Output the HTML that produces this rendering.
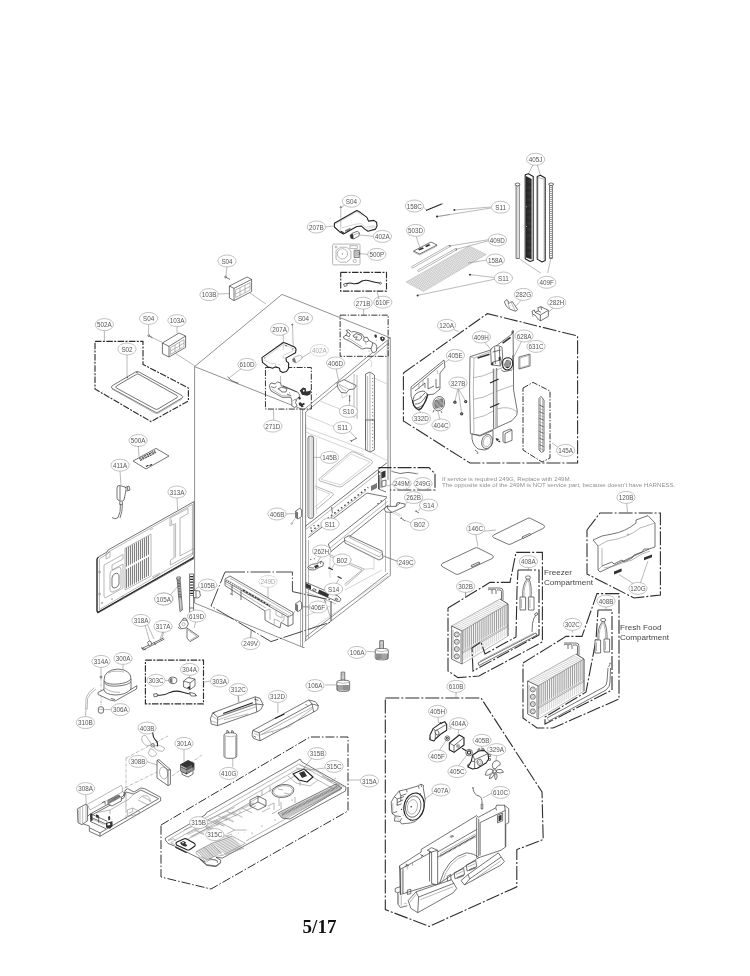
<!DOCTYPE html>
<html lang="en"><head><meta charset="utf-8"><title>Exploded view 5/17</title>
<style>
html,body{margin:0;padding:0;background:#fff;}
body{width:750px;height:976px;overflow:hidden;}
svg{will-change:transform;display:block;position:absolute;left:0;top:0;font-family:"Liberation Sans",sans-serif;}
.le{fill:#fff;stroke:#999;stroke-width:.6;}
.lt{font-size:6.3px;fill:#555;text-anchor:middle;}
.lf{stroke:#c4c4c4;}
.ltf{fill:#aaa;}
.dd{fill:none;stroke:#2e2e2e;stroke-width:1.1;stroke-dasharray:14 2 2 2;}
.t{fill:none;stroke:#808080;stroke-width:.55;}
.k{fill:none;stroke:#3a3a3a;stroke-width:.7;stroke-linejoin:round;}
.b{fill:none;stroke:#222;stroke-width:1.1;stroke-linejoin:round;}
.g{fill:none;stroke:#888;stroke-width:.6;stroke-linejoin:round;}
.h{fill:none;stroke:#aaa;stroke-width:.5;stroke-linejoin:round;}
.w{fill:#fff;}
.f1{fill:#333;}
.f2{fill:#777;}
.f3{fill:#bbb;}
.f4{fill:#ddd;}
.pg{font-family:"Liberation Serif",serif;font-weight:bold;font-size:19px;fill:#111;text-anchor:middle;}
.note{font-size:6.17px;fill:#909090;}
.cap{font-size:8.1px;fill:#444;}
.hw{fill:none;stroke:#fff;stroke-width:.45;}
.dm{fill:none;stroke:#2e2e2e;stroke-width:1.15;stroke-dasharray:6.5 1.4 2 1.4;}
.c1{fill:none;stroke:#555;stroke-width:.65;}
.dl{fill:none;stroke:#333;stroke-width:.9;stroke-dasharray:20 2 1.5 2;}
.ds{fill:none;stroke:#333;stroke-width:1;stroke-dasharray:6 1.5 1.4 1.5;}
.fin{fill:none;stroke:#666;stroke-width:.65;}

</style></head>
<body>
<svg width="750" height="976" viewBox="0 0 750 976">
<g id="p05_cabinet">
<polyline class="c1" points="194.6,366.6 282,294.4 390.3,337.8"/>
<polyline class="c1" points="194.6,366.6 303.5,409.8"/>
<polyline class="c1" points="194.6,366.6 194.6,603 302,647"/>
<polyline class="c1" points="302.6,409.8 302.6,647.5 304.5,647.5"/>
<polyline class="c1" points="305.6,412 305.6,641"/>
<polyline class="c1" points="303.7,409.8 390.3,337.8 390.3,575.5"/>
<polyline class="c1" points="305.5,412.3 388,343.5"/>
<polyline class="c1" points="388,343 388,480"/>
<polyline class="c1" points="304.5,641.5 390.3,575.5"/>
<polyline class="c1" points="305.6,637 388,573"/>
<polyline class="g" points="300.5,409 300.5,646"/>
</g>
<g id="p06_cab_top">
<polyline class="ds" points="340.13,315.15 388.13,315.15 388.13,356.32 340.13,356.32 340.13,315.15"/>
<polyline class="t" points="363.6,309.07 363.6,315.15"/>
<path class="k w" d="M 343.33,336.8 L 346,335.2 L 347.6,332 L 346,330.4 L 348.67,329.87 L 351.33,332 L 354,331.47 L 357.73,332.53 L 362,334.13 L 364.13,337.33 L 367.33,337.33 L 368.93,340.53 L 372.67,342.67 L 375.87,344.27 L 376.93,346.93 L 376.4,351.2 L 373.73,352.8 L 371.6,351.2 L 371.07,348.53 L 366.27,348 L 362,349.07 L 358.8,346.93 L 351.33,342.13 L 347.07,340 L 343.87,338.4 Z"/>
<path class="k" d="M 352.93,335.73 L 356.13,333.6 L 360.93,335.2 L 362,337.87 L 359.33,340.32 L 355.6,339.47 L 357.2,336.8 L 354,337.33 Z M 347.6,332 L 350.27,334.13 L 349.2,336.8 L 346,335.2 M 364.13,337.33 L 363.6,340.53 L 366.27,342.13 L 368.93,340.53 M 372.67,342.67 L 372.13,345.87 L 371.07,348.53"/>
<path class="g" d="M 347.07,340 L 349.2,338.4 L 358.8,344.8 L 362,346.93 M 365.2,342.67 L 366.27,344.8"/>
<path class="f1" d="M 374.27,334.99 L 376.08,334.35 L 377.15,336.27 L 376.08,337.97 L 374.8,337.33 Z"/>
<path class="f1" d="M 380.13,337.33 L 382.27,336.48 L 384.93,337.87 L 384.4,340.32 L 382.27,341.39 L 380.35,339.68 Z"/>
<path class="w" d="M 381.84,337.97 L 382.91,337.55 L 383.33,339.04 L 382.27,339.47 Z"/>
<circle class="f1" cx="376.51" cy="340.11" r="0.43"/>
<circle class="f1" cx="369.04" cy="350.99" r="0.43"/>
<circle class="f2" cx="344.93" cy="348" r="0.27"/>
<circle class="f2" cx="346.85" cy="342.67" r="0.27"/>
<polyline class="ds" points="265.45,367.47 311.32,367.47 311.32,409.07 265.45,409.07 265.45,367.47"/>
<polyline class="t" points="273.67,409.6 273.67,420.27"/>
<polyline class="t" points="280.6,376 280.6,382.93"/>
<path class="k w" d="M 269.4,385.6 L 271,382.93 L 275.27,384 L 277.4,381.87 L 280.6,382.93 L 281.13,385.6 L 297.67,392 L 299.8,395.2 L 299.27,397.33 L 297.13,398.4 L 295.53,402.67 L 297.13,405.87 L 294.47,407.47 L 291.8,405.87 L 291.8,400 L 290.73,397.33 L 282.2,397.33 L 271,390.93 L 269.93,388.27 Z"/>
<path class="k" d="M 277.93,388.8 L 281.67,387.2 L 287,388.8 L 285.93,392 L 281.67,392 L 280.6,390.4 Z M 271,386.67 L 274.73,387.95 L 276.33,386.13 M 282.73,385.6 L 296.6,392 M 287,394.13 L 291.27,395.73 M 293.4,400.53 Q 294.47,398.93 296.07,400"/>
<path class="g" d="M 272.07,389.33 L 282.2,395.73 L 290.73,396.05 M 289.13,392 L 290.2,393.6"/>
<path class="f1" d="M 299.8,390.4 L 303,387.52 L 305.67,388.27 L 306.2,391.47 L 309.4,390.93 L 311,389.87 L 310.47,394.13 L 307.27,395.73 L 301.93,394.67 Z"/>
<path class="w" d="M 302.79,390.08 L 304.28,389.65 L 304.71,391.15 L 303.21,391.79 Z"/>
<path class="f1" d="M 298.73,402.67 L 300.87,402.13 L 301.93,403.73 L 304.07,402.67 L 304.92,404.27 L 303,405.33 L 303.53,406.93 L 301.4,407.15 L 300.33,405.87 L 298.95,405.33 Z"/>
<path class="f1" d="M 298.2,397.33 L 300.33,396.8 L 300.87,398.93 L 298.95,399.68 Z"/>
<circle class="f1" cx="316.33" cy="394.13" r="0.48"/>
<circle class="f2" cx="301.93" cy="378.99" r="0.27"/>
<polyline class="t" points="336,368.4 339,382"/>
<path class="k w" d="M 337,383 L 344,379.6 L 356.4,385.6 L 354,389 L 349,389.6 L 346,393 L 341,392.4 L 338,388 Z"/>
<path class="g" d="M 337,383 L 349,389.6 M 339,385 Q 342,390 346,391"/>
<path class="h" d="M 342,393 L 342,398 L 347,396 L 347,392"/>
<path class="k" d="M 349.6,395.6 L 349.6,401 M 348.8,396 L 350.4,396 M 348.8,401 L 350.4,401"/>
<polyline class="t" points="349.6,402 349,407"/>
<polyline class="g" points="354,374 354,418"/>
<polyline class="g" points="357,375 357,419"/>
<polyline class="h" points="320,401 358,416.4"/>
<polyline class="h" points="307,415.6 342,430"/>
<polyline class="h" points="387,342 387,440"/>
<polyline class="h" points="374,378 387,384"/>
<path class="k w" d="M 365.6,374 L 370,372 L 374.4,375 L 374.4,440 L 365.6,440 Z"/>
<path class="g" d="M 370,372.4 L 370,440 M 367.6,376 L 367.6,440"/>
<path stroke="#777" stroke-width="1" stroke-dasharray="1 2.4" fill="none" d="M372.6,378 V440"/>
<path class="h" d="M 370,360 L 372,362 L 371,367"/>
<polyline class="t" points="348.4,430 356.4,438.4"/>
<ellipse class="le" cx="363.1" cy="303.2" rx="9.15" ry="6"/><text class="lt" x="363.1" y="305.7">271B</text>
<ellipse class="le" cx="382.8" cy="302.2" rx="9.15" ry="6"/><text class="lt" x="382.8" y="304.7">610F</text>
<ellipse class="le" cx="335.6" cy="363" rx="9.15" ry="6"/><text class="lt" x="335.6" y="365.5">406D</text>
<ellipse class="le" cx="348.4" cy="411.4" rx="9.15" ry="6"/><text class="lt" x="348.4" y="413.9">S10</text>
<ellipse class="le" cx="342.6" cy="427.6" rx="9.15" ry="6"/><text class="lt" x="342.6" y="430.1">S11</text>
<ellipse class="le" cx="272.9" cy="426.1" rx="9.15" ry="6"/><text class="lt" x="272.9" y="428.6">271D</text>
</g>
<g id="p07_cab_mid">
<path class="k" d="M 351,441 L 357,438 M 350.4,440 L 352,442"/>
<polyline class="h" points="305.6,427.6 366,450 388,461"/>
<polyline class="h" points="305.6,432 364,455"/>
<polyline class="g" points="366,450 366,420"/>
<path class="k w" d="M 365.6,420 L 374.4,420 L 374.4,450 L 370,452 L 365.6,450 Z"/>
<path class="g" d="M 370,420 L 370,451.6 M 367.6,420 L 367.6,450.4"/>
<path stroke="#777" stroke-width="1" stroke-dasharray="1 2.4" fill="none" d="M372.6,420 V450"/>
<path class="k w" d="M 308,438 Q 308,436 310.8,436 Q 313.6,436 313.6,438 L 313.6,516.4 Q 313.6,518.4 310.8,518.4 Q 308,518.4 308,516.4 Z"/>
<path class="g" d="M 309.8,437 L 309.8,517.6 M 312,437 L 312,517.6"/>
<polyline class="t" points="322.4,457.4 313.6,457.4"/>
<path class="g" d="M 319,479 L 350,452.6 Q 352,451 355,452.4 L 371,460 Q 374,461.6 371.6,464 L 342,486.4 Q 340,487.6 337,486.4 L 320,481 Q 318,480 319,479 Z"/>
<path class="h" d="M 321,479.4 L 351,454 L 370,462 L 341,485 Z"/>
<path class="g" d="M 315,486 L 332.4,493 Q 334.4,494 332.4,496 L 317,509"/>
<path class="h" d="M 315,488 L 330,494 L 315,507"/>
<polyline class="g" points="305.6,424 305.6,528"/>
<polyline class="h" points="316.4,438 316.4,514"/>
<polyline class="k" points="305.7,526 387,462.7"/>
<polyline class="g" points="305.7,529.5 382,470"/>
<path stroke="#444" stroke-width="1.5" stroke-dasharray="1.6 2.6" fill="none" d="M311,531.3 L368.3,487.3"/>
<polyline class="g" points="309,535 366,491"/>
<polyline class="k" points="308.3,537.5 367,493 387,497"/>
<polyline class="k" points="328.3,544 387,497.5"/>
<polyline class="k" points="331,551.5 388.3,505"/>
<polyline class="k" points="328.3,544 331,551.5"/>
<polyline class="g" points="330,548 387.5,501.5"/>
<circle class="f1" cx="378" cy="503.6" r="0.7"/>
<circle class="f1" cx="381.2" cy="501" r="0.7"/>
<circle class="f1" cx="311" cy="528" r="0.7"/>
<circle class="f1" cx="314" cy="525.6" r="0.7"/>
<path class="k" d="M378.5,470 L378.5,489 L386,492 M381,472 L381,488"/>
<path class="f1" d="M381.5,472 L385.5,470.5 L385.5,477 L381.5,478.5 Z"/>
<path class="k" d="M382,481 L386,480 L386,486 L382,487 Z"/>
<path class="f2" d="M371,486 L377,483 L377,488 L371,491 Z"/>
<polyline class="g" points="305.7,540 305.7,640"/>
<polyline class="g" points="308.5,540 308.5,638"/>
<polyline class="g" points="385.5,500 385.5,572"/>
<path class="k" d="M 331.6,507 L 332.4,513"/>
<polyline class="t" points="331,519 332,513.6"/>
<path class="k w" d="M 295.6,511 L 299.6,508.4 L 301.6,509.6 L 301.6,516.4 L 298,519 L 295.6,517.6 Z"/>
<path class="f2" d="M 295.6,511 L 298,512.4 L 298,519 L 295.6,517.6 Z"/>
<polyline class="t" points="284.4,514 295.6,513.6"/>
<polyline class="t" points="295,518.4 292,523"/>
<circle class="g w" cx="291.6" cy="523.6" r="0.8"/>
<path class="k w" d="M 344.4,538 L 349,535.6 L 382,551 L 383,558 L 379,560 L 345,543 Z"/>
<path class="g" d="M 344.4,540 L 379.6,557 L 382,553.6 M 349,535.6 L 350,538 L 381,553"/>
<polyline class="t" points="398,561.6 383,556"/>
<polyline class="h" points="330,550 330,570"/>
<polyline class="h" points="354,548 374,558 374,570"/>
<polyline class="h" points="340,554 352,560"/>
<polyline class="t" points="321.52,555.6 317.2,562.8"/>
<polyline class="t" points="335.6,562 331.92,568.08"/>
<polyline class="g" points="328.4,554 364.4,569.2 345.2,586"/>
<polyline class="g" points="330,556.4 362,570 344.4,584.4"/>
<polyline class="h" points="364.4,569.2 373.2,568.4"/>
<path class="k w" d="M 307.6,567.12 L 311.6,564.4 L 317.2,563.6 L 321.2,561.2 L 323.6,562.8 L 322.8,566 L 318.8,567.6 L 314,570 L 309.2,569.68 Z"/>
<path class="f1" d="M 314,566 L 318,564.4 L 318.8,566.8 L 315.28,568.4 Z"/>
<path class="k" d="M 309.2,567.6 L 314,568.08 M 321.2,561.2 L 320.4,563.92"/>
<circle class="f1" cx="310.8" cy="559.6" r="0.56"/>
<circle class="f1" cx="314.32" cy="558.8" r="0.56"/>
<path class="b" d="M 328.72,567.76 L 332.88,569.68"/>
<path class="k" d="M 328.4,568.72 L 329.36,566.8"/>
<ellipse class="le" cx="329.6" cy="457.4" rx="9.15" ry="6"/><text class="lt" x="329.6" y="459.9">145B</text>
<ellipse class="le" cx="277" cy="514" rx="9.15" ry="6"/><text class="lt" x="277" y="516.5">406B</text>
<ellipse class="le" cx="330" cy="524" rx="9.15" ry="6"/><text class="lt" x="330" y="526.5">S11</text>
<ellipse class="le" cx="321.6" cy="551" rx="9.15" ry="6"/><text class="lt" x="321.6" y="553.5">262H</text>
<ellipse class="le" cx="342" cy="560" rx="9.15" ry="6"/><text class="lt" x="342" y="562.5">B02</text>
<ellipse class="le" cx="406" cy="562" rx="9.15" ry="6"/><text class="lt" x="406" y="564.5">249C</text>
</g>
<g id="p08_cab_bot">
<polyline class="h" points="305.6,582 305.6,638"/>
<polyline class="h" points="310,630 388,576"/>
<polyline class="h" points="306,616 330,606"/>
<polyline class="h" points="330,570 330,578"/>
<polyline class="h" points="345,590 382,570"/>
<path class="b" d="M 337.6,576.4 L 341.6,578.4"/>
<polyline class="t" points="336,584 339,579"/>
<path class="k w" d="M 306,582.4 L 338,596 L 341,599 L 339.6,601.6 L 336,601 L 306,588 Z"/>
<path class="f1" d="M 306,583.2 L 311,585.4 L 311,589.6 L 306,587.6 Z"/>
<path class="f1" d="M 319,589.6 L 329,594 L 328,597.6 L 318,593.2 Z"/>
<ellipse class="k w" cx="314.4" cy="590" rx="1.8" ry="1" transform="rotate(20 314.4 590)"/>
<ellipse class="k w" cx="336.4" cy="599.2" rx="1.4" ry="0.8" transform="rotate(20 336.4 599.2)"/>
<polyline class="g" points="306,592 336,604"/>
<path class="k w" d="M 295.6,603.6 L 299.6,601 L 301.6,602.4 L 301.6,609 L 298,611.6 L 295.6,610 Z"/>
<path class="f2" d="M 295.6,603.6 L 298,605 L 298,611.6 L 295.6,610 Z"/>
<polyline class="t" points="309.6,607 301.6,606"/>
<polyline class="t" points="295,611 292,615.6"/>
<circle class="g w" cx="291.6" cy="616.4" r="0.8"/>
<polyline class="k" points="324.4,600 326,603"/>
<polyline class="t" points="327,607 330,616"/>
<path class="k w" d="M 379.73,640.67 L 383.47,640.67 L 383.47,650.27 L 379.73,650.27 Z"/>
<path class="g" d="M379.73,641.73 L383.47,641.73 M379.73,643.01 L383.47,643.01 M379.73,644.29 L383.47,644.29 M379.73,645.57 L383.47,645.57 M379.73,646.85 L383.47,646.85 M379.73,648.13 L383.47,648.13 M379.73,649.41 L383.47,649.41"/>
<path class="k w" d="M 375.25,650.27 Q 375.25,648.35 381.76,648.35 Q 388.27,648.35 388.27,650.27 L 388.27,657.95 Q 388.27,659.87 381.76,659.87 Q 375.25,659.87 375.25,657.95 Z"/>
<path class="g" d="M 375.25,650.48 Q 381.76,652.61 388.27,650.48"/>
<path fill="none" stroke="#333" stroke-width="5.6" stroke-dasharray=".55 .55" d="M376,656.3 H387.8"/>
<polyline class="t" points="366.93,651.33 375.25,651.87"/>
<path class="k w" d="M 341.12,672.13 L 344.75,672.13 L 344.75,681.73 L 341.12,681.73 Z"/>
<path class="g" d="M341.12,673.2 L344.75,673.2 M341.12,674.48 L344.75,674.48 M341.12,675.76 L344.75,675.76 M341.12,677.04 L344.75,677.04 M341.12,678.32 L344.75,678.32 M341.12,679.6 L344.75,679.6 M341.12,680.88 L344.75,680.88"/>
<path class="k w" d="M 336.85,682.05 Q 336.85,680.13 343.25,680.13 Q 349.65,680.13 349.65,682.05 L 349.65,689.52 Q 349.65,691.44 343.25,691.44 Q 336.85,691.44 336.85,689.52 Z"/>
<path class="g" d="M 336.85,682.27 Q 343.25,684.4 349.65,682.27"/>
<path fill="none" stroke="#333" stroke-width="5.6" stroke-dasharray=".55 .55" d="M337.5,687.7 H349.2"/>
<polyline class="t" points="325.12,684.93 336.85,684.93"/>
<ellipse class="le" cx="333.6" cy="589" rx="9.15" ry="6"/><text class="lt" x="333.6" y="591.5">S14</text>
<ellipse class="le" cx="318" cy="607" rx="9.15" ry="6"/><text class="lt" x="318" y="609.5">406F</text>
<ellipse class="le" cx="357" cy="652.4" rx="9.15" ry="6"/><text class="lt" x="357" y="654.9">106A</text>
<ellipse class="le" cx="315" cy="685.6" rx="9.15" ry="6"/><text class="lt" x="315" y="688.1">106A</text>
</g>
<g id="p10_top_mid">
<polyline class="t" points="346.4,204 341.2,207.2"/>
<polyline class="t" points="325.4,227 333.6,226"/>
<polyline class="t" points="374,236.4 360,235"/>
<polyline class="t" points="368,254.4 359.6,253.6"/>
<polyline class="t" points="423,206.6 426.4,210"/>
<polyline class="t" points="416,235.6 420,248.4"/>
<path class="b w" d="M 334.4,223.27 L 356.8,210.47 L 360.53,212.6 L 366.93,217.4 L 368.53,221.13 L 373.87,220.39 L 376.53,222.2 L 377.07,225.93 L 375.47,229.13 L 368,231.27 L 364.8,229.13 L 361.07,225.93 L 356.8,226.47 L 343.47,233.93 L 340.27,232.33 L 334.4,227 Z"/>
<path class="h" d="M 335.47,224.01 L 356.8,211.85 L 360,213.67 M 340.27,228.07 L 356.8,224.01 L 361.07,223.59 L 364.8,226.47 L 368,228.6 L 375.47,226.47 M 340.27,228.07 L 340.27,231.8 M 360,213.99 L 362.13,215.27 M 365.87,219 L 366.93,220.07 M 366.93,226.47 L 374.4,225.93"/>
<path class="k" d="M 345.07,230.73 L 350.4,228.28 M 345.39,231.48 L 350.72,229.13"/>
<path class="f1" d="M 340.27,231.8 L 343.47,233.61 L 344,232.33 L 341.12,230.73 Z"/>
<polyline class="t" points="340.8,208.33 340.8,227"/>
<circle class="k w" cx="340.8" cy="207.27" r="0.64"/>
<path class="k w" d="M 350.19,235.32 L 352,233.4 L 357.33,231.27 L 359.47,232.87 L 358.93,236.07 L 353.6,238.95 L 350.93,238.2 Z"/>
<path class="f1" d="M 350.19,235.32 L 352,233.61 L 353.28,235 L 353.6,238.95 L 350.93,238.2 Z"/>
<path class="g" d="M 353.28,235 L 359.47,232.87"/>
<path class="g w" d="M 333.65,244.07 L 358.93,244.07 Q 360,244.07 360,245.13 L 360,263.8 Q 360,264.87 358.93,264.87 L 333.65,264.87 Q 332.59,264.87 332.59,263.8 L 332.59,245.13 Q 332.59,244.07 333.65,244.07 Z"/>
<path class="g" d="M 336,250.47 L 340.27,247.27 L 346.67,247.27 L 350.93,251 L 350.93,258.47 L 346.67,262.2 L 340.27,262.2 L 336,259 Z"/>
<circle class="g" cx="342.4" cy="253.88" r="5.12"/>
<circle class="g" cx="342.4" cy="253.88" r="0.53"/>
<circle class="g" cx="336" cy="247.05" r="0.96"/>
<circle class="g" cx="354.67" cy="260.92" r="1.6"/>
<path class="k w" d="M 354.13,250.25 L 359.25,250.25 L 359.25,257.4 L 354.13,257.4 Z"/>
<path class="f3" d="M 354.99,251 L 358.4,251 L 358.4,256.65 L 354.99,256.65 Z"/>
<path class="g" d="M 349.87,245.67 L 357.33,245.67 L 357.33,248.55 L 349.87,248.55 Z"/>
<path class="k" d="M 358.61,252.07 L 359.68,253.45 L 358.61,254.73"/>
<polyline class="dm" points="340.7,272.3 386.5,272.3 386.5,291.1 340.7,291.1 340.7,272.3"/>
<path class="b" d="M 344.4,285 Q 348,282 353,283.6 Q 358,284.4 362,281 Q 366,279.6 370,281 Q 375,282.4 379.6,283"/>
<path class="k w" d="M 343.6,284 L 346.4,283.2 L 347.2,285.6 L 344.4,286.4 Z"/>
<circle class="k w" cx="380.4" cy="283.2" r="1"/>
<polyline class="t" points="377,291.6 379,299"/>
<path class="b" d="M 426,210.6 L 441.6,204"/>
<circle class="g w" cx="442" cy="203.8" r="0.8"/>
<circle class="f1" cx="437.2" cy="216.6" r="0.8"/>
<polyline class="t" points="437.2,216.6 450,214.4"/>
<path class="k w" d="M 413.6,251 L 431,242 L 437,245 L 419.6,254 Z"/>
<path class="f1" d="M 418,249.4 L 422.4,247.2 L 424,248.4 L 419.6,250.6 Z"/>
<path class="f1" d="M 425,246 L 429,244 L 430.4,245.2 L 426.4,247.2 Z"/>
<polyline class="g" points="413.6,251 413.6,252 419.6,255 437,246 437,245"/>
<ellipse class="le" cx="351.4" cy="201.2" rx="9.15" ry="6"/><text class="lt" x="351.4" y="203.7">S04</text>
<ellipse class="le" cx="316.4" cy="227" rx="9.15" ry="6"/><text class="lt" x="316.4" y="229.5">207B</text>
<ellipse class="le" cx="382.4" cy="236.4" rx="9.15" ry="6"/><text class="lt" x="382.4" y="238.9">402A</text>
<ellipse class="le" cx="376.8" cy="254.4" rx="9.15" ry="6"/><text class="lt" x="376.8" y="256.9">500P</text>
<ellipse class="le" cx="414.4" cy="206" rx="9.15" ry="6"/><text class="lt" x="414.4" y="208.5">158C</text>
<ellipse class="le" cx="415.6" cy="230.4" rx="9.15" ry="6"/><text class="lt" x="415.6" y="232.9">503D</text>
</g>
<g id="p11_top_right_a">
<defs><pattern id="mesh" width="1.6" height="1.6" patternUnits="userSpaceOnUse" patternTransform="rotate(-30)"><rect width="1.6" height="1.6" fill="#f1f1f1"/><path d="M0,0.4H1.6M0.4,0V1.6" stroke="#b4b4b4" stroke-width=".36"/></pattern></defs>
<path fill="url(#mesh)" stroke="#aaa" stroke-width=".4" d="M406,282 L469,246 L486.4,254.4 L423.6,291.6 Z"/>
<polyline class="t" points="491,207 454.4,210"/>
<polyline class="t" points="491,208 437,216.6"/>
<polyline class="t" points="489,239.6 449.6,246"/>
<polyline class="t" points="489,240.6 456,249.4"/>
<polyline class="t" points="487,260 468,263"/>
<polyline class="t" points="495,277.6 470,274.6"/>
<polyline class="t" points="495.6,279 417.6,295.4"/>
<circle class="f1" cx="454.4" cy="210" r="1"/>
<circle class="f1" cx="437" cy="216.6" r="1"/>
<circle class="f1" cx="470" cy="274.8" r="1"/>
<circle class="f1" cx="417.6" cy="295.4" r="1"/>
<circle class="f1" cx="449.6" cy="246" r="1"/>
<circle class="f1" cx="456" cy="249.4" r="1"/>
<path class="g w" d="M 411.6,266.6 L 449.2,245.2 L 450,246.6 L 412.4,268.2 Z"/>
<path class="g w" d="M 417.6,270.2 L 455.6,248.6 L 456.4,250 L 418.4,271.8 Z"/>
<polyline class="t" points="521.67,299.67 515,307"/>
<polyline class="t" points="553.67,307.67 548.33,312.33"/>
<path class="k w" d="M 504.33,301.67 L 506.73,299.67 L 508.33,301 L 508.33,303.67 L 510.33,302.33 L 512.33,301.67 L 517.67,309.67 L 515.67,311.27 L 509.67,309 L 506.33,306.33 Z"/>
<path class="g" d="M 508.33,303.67 L 509.67,309 M 512.33,301.67 L 511.67,303.67 L 515.67,311.27 M 506.73,299.67 L 507,301.67"/>
<path class="k w" d="M 532.07,311.27 L 534.33,309.93 L 535,312.33 L 538.33,311 L 537.93,307.67 L 541,306.73 L 548.33,310.33 L 548.33,316.33 L 540.33,321 L 537.67,318.33 L 535,315 L 532.6,314.33 Z"/>
<path class="k" d="M 540.33,321 L 540.33,315 L 548.33,310.33 M 540.33,315 L 535,312.33 M 538.33,311 L 541,312.33 M 541,306.73 L 541.67,309.93"/>
<path class="g" d="M 532.6,314.33 L 532.6,316.33 L 533.67,316.6 M 537.67,318.33 L 537.67,319.67"/>
<ellipse class="le" cx="556.73" cy="302.6" rx="9.15" ry="6"/><text class="lt" x="556.73" y="305.1">282H</text>
<ellipse class="le" cx="500.6" cy="207.2" rx="9.15" ry="6"/><text class="lt" x="500.6" y="209.7">S11</text>
<ellipse class="le" cx="497.4" cy="240" rx="9.15" ry="6"/><text class="lt" x="497.4" y="242.5">409D</text>
<ellipse class="le" cx="495.4" cy="260" rx="9.15" ry="6"/><text class="lt" x="495.4" y="262.5">158A</text>
<ellipse class="le" cx="503.4" cy="278" rx="9.15" ry="6"/><text class="lt" x="503.4" y="280.5">S11</text>
<ellipse class="le" cx="523.4" cy="294.4" rx="9.15" ry="6"/><text class="lt" x="523.4" y="296.9">282G</text>
</g>
<g id="p12_strips">
<defs><pattern id="blk" width="1.2" height="1.2" patternUnits="userSpaceOnUse"><rect width="1.2" height="1.2" fill="#222"/><rect x=".3" y=".3" width=".4" height=".4" fill="#777"/></pattern></defs>
<polyline class="t" points="533.2,164.4 528.4,173.68"/>
<polyline class="t" points="537.2,164.4 540.4,175.28"/>
<polyline class="t" points="519.28,258.8 540.88,273.2"/>
<polyline class="t" points="550.8,258.8 547.6,273.2"/>
<path class="k w" d="M 516.08,185.52 L 519.28,185.52 L 519.28,258.48 L 516.08,258.48 Z"/>
<path class="g" d="M 517.04,186 L 517.04,258.16"/>
<path class="k w" d="M 515.28,183.6 L 517.52,182.96 L 519.76,183.6 L 519.76,185.2 L 517.52,186 L 515.28,185.2 Z"/>
<path class="b w" d="M 525.2,174.8 L 528.4,173.68 L 533.2,176.4 L 533.2,260.4 L 530,261.52 L 525.2,258.8 Z"/>
<path fill="url(#blk)" d="M526,176 L531.6,179 L531.6,259.6 L526,257.5 Z"/>
<circle class="w" cx="526.48" cy="206.8" r="0.48"/>
<circle class="w" cx="526.48" cy="226.48" r="0.48"/>
<path class="b w" d="M 537.2,176.4 L 540.4,175.28 L 545.2,178 L 545.2,260.4 L 542,262 L 537.2,259.12 Z"/>
<polyline class="g" points="538,177.52 544.08,179.28 544.08,259.76"/>
<polyline class="g" points="538,177.52 538,258.8"/>
<path class="k w" d="M 549.52,185.52 L 552.4,185.52 L 552.4,258.48 L 549.52,258.48 Z"/>
<path class="k w" d="M 548.88,183.6 L 551.12,182.96 L 553.36,183.6 L 553.36,184.88 L 551.12,185.68 L 548.88,184.88 Z"/>
<path stroke="#555" stroke-width="1.4" stroke-dasharray=".8 1.2" fill="none" d="M551,187 V258"/>
<ellipse class="le" cx="535.6" cy="159.28" rx="9.15" ry="6"/><text class="lt" x="535.6" y="161.78">405J</text>
<ellipse class="le" cx="546.7" cy="282.3" rx="9.15" ry="6"/><text class="lt" x="546.7" y="284.8">409F</text>
</g>
<g id="p13_103b">
<polyline class="t" points="227,266 226,276"/>
<polyline class="t" points="217,294 229.4,293.6"/>
<polyline class="t" points="250,293 266,304"/>
<polyline class="t" points="283,334.4 283.6,344"/>
<polyline class="t" points="311,352 302,357.6"/>
<polyline class="t" points="242,368 229,378"/>
<path class="k w" d="M 229.4,286 L 247,277 L 251.6,279.4 L 251.6,291.6 L 234,300.6 L 229.4,298 Z"/>
<path class="k" d="M 229.4,286 L 234,288.4 L 251.6,279.4 M 234,288.4 L 234,300.6"/>
<path class="g" d="M 235.6,290 L 250,282.6 L 250,290 L 235.6,297.6 Z M 240,288 L 240,295.4 M 245,285.4 L 245,292.8 M 235.6,294 L 250,286.4"/>
<circle class="k w" cx="225.6" cy="277" r="0.9"/>
<polyline class="k" points="226.4,277.6 230,279.4"/>
<path class="b w" d="M 261.93,357.6 L 283.27,342.45 L 285.93,343.2 L 294.47,346.93 L 296.07,349.07 L 295.53,352.8 L 285.93,358.13 L 286.47,361.33 L 288.6,362.93 L 288.6,368.27 L 286.47,371.47 L 282.73,372.53 L 280.07,370.93 L 279.53,368.27 L 275.8,366.67 L 272.6,368.27 L 267.8,366.67 L 262.47,362.4 Z"/>
<path class="h" d="M 264.07,358.45 L 283.27,344.27 L 293.4,348.53 M 283.27,355.47 L 290.2,352.27 L 294.47,350.13 M 283.27,355.47 L 283.27,358.13 L 285.93,358.13 M 263.53,359.73 L 272.07,364 L 275.27,362.93 L 275.8,366.67 M 277.93,364.53 L 280.6,365.07 M 283.27,344.27 L 283.27,350.13"/>
<path class="k" d="M 284.87,345.33 L 287,346.08 M 291.8,349.28 L 293.4,348.85"/>
<circle class="g" cx="264.81" cy="358.13" r="0.43"/>
<polyline class="t" points="292.55,326.13 293.19,345.87"/>
<circle class="k w" cx="292.33" cy="324.75" r="0.64"/>
<path class="g w" d="M 292.33,359.2 L 294.47,357.07 L 299.8,355.25 L 301.93,356.53 L 301.72,358.88 L 296.07,362.93 L 293.19,361.87 Z"/>
<path class="f2" d="M 292.33,359.2 L 294.25,357.39 L 295.32,359.2 L 296.07,362.93 L 293.19,361.87 Z"/>
<path class="k" d="M 227.6,376.6 Q 230,380 233.6,381.6 L 238.4,383.2"/>
<ellipse class="le" cx="227" cy="261" rx="9.15" ry="6"/><text class="lt" x="227" y="263.5">S04</text>
<ellipse class="le" cx="209" cy="294.6" rx="9.15" ry="6"/><text class="lt" x="209" y="297.1">103B</text>
<ellipse class="le" cx="279.6" cy="329.4" rx="9.15" ry="6"/><text class="lt" x="279.6" y="331.9">207A</text>
<ellipse class="le" cx="303.5" cy="318.3" rx="9.15" ry="6"/><text class="lt" x="303.5" y="320.8">S04</text>
<ellipse class="le lf" cx="319.4" cy="350.4" rx="9.15" ry="6"/><text class="lt ltf" x="319.4" y="352.9">402A</text>
<ellipse class="le" cx="247" cy="364.4" rx="9.15" ry="6"/><text class="lt" x="247" y="366.9">610D</text>
</g>
<g id="p14_502a">
<polyline class="dm" points="95,341.4 143,341.4 143,364.4 188.4,388 188.4,401 151,421.6 95,389 95,341.4"/>
<polyline class="t" points="104.4,329.6 104.4,341.4"/>
<polyline class="t" points="127,354 127,377"/>
<polyline class="t" points="148.6,323.4 148.6,334"/>
<polyline class="t" points="177,325.6 177,333"/>
<polyline class="t" points="174,352.4 195,366"/>
<polyline class="t" points="150.4,336.8 162.4,342.4"/>
<path class="k w" d="M 112.4,385.6 L 135.6,372 Q 137.2,371 139,372 L 182,395.6 Q 183.6,396.8 182,398 L 158.4,412 Q 156.8,413 155,412 L 112,388.4 Q 110.4,387.2 112.4,385.6 Z"/>
<path class="k" d="M 116.4,386 L 136.4,374.4 Q 137.6,373.6 139,374.4 L 177,395.6 Q 178.4,396.6 177,397.6 L 158,409 Q 156.6,409.8 155,409 L 116.4,388 Q 115,387 116.4,386 Z"/>
<path class="g" d="M 112,389 L 155,413.2 Q 156.8,414 158.4,413.2 L 182,399"/>
<circle class="f1" cx="137" cy="372.4" r="0.6"/>
<circle class="f1" cx="127.4" cy="377.6" r="0.6"/>
<circle class="k w" cx="148.8" cy="335.6" r="0.9"/>
<polyline class="k" points="149.6,336.2 152.4,337.6"/>
<path class="k w" d="M 162.4,343 L 179,333 L 185.6,336 L 185.6,347.4 L 169,357 L 162.4,353.6 Z"/>
<path class="k" d="M 162.4,343 L 169,346.4 L 185.6,336 M 169,346.4 L 169,357"/>
<path class="g" d="M 170.6,347.6 L 184,339.6 L 184,346.4 L 170.6,354.4 Z M 175,345 L 175,352 M 179.6,342.2 L 179.6,349.2 M 170.6,351 L 184,343"/>
<ellipse class="le" cx="104.4" cy="324.6" rx="9.15" ry="6"/><text class="lt" x="104.4" y="327.1">502A</text>
<ellipse class="le" cx="148.6" cy="318.4" rx="9.15" ry="6"/><text class="lt" x="148.6" y="320.9">S04</text>
<ellipse class="le" cx="177" cy="320.6" rx="9.15" ry="6"/><text class="lt" x="177" y="323.1">103A</text>
<ellipse class="le" cx="127" cy="349" rx="9.15" ry="6"/><text class="lt" x="127" y="351.5">S02</text>
<ellipse class="le" cx="138.1" cy="440.5" rx="9.15" ry="6"/><text class="lt" x="138.1" y="443">500A</text>
</g>
<g id="p15_left_mid">
<polyline class="t" points="138.4,446 139,457"/>
<polyline class="t" points="120,471 121,485"/>
<path class="k w" d="M 133,461 L 156,448.4 L 169,456 L 146,469 Z"/>
<path stroke="#333" stroke-width="3" stroke-dasharray="1.9 .8" fill="none" d="M139.8,459.6 L155.6,451.6"/>
<path stroke="#fff" stroke-width="1.2" stroke-dasharray=".9 1.8" stroke-dashoffset="-.5" fill="none" d="M139.8,459.6 L155.6,451.6"/>
<path class="b" d="M 146,466.4 L 148.4,465.2 M 149.6,465.6 L 152,464.4"/>
<path class="k w" d="M 117,488 Q 117,485 120,485.6 L 125,487 Q 126.4,488 126,490 L 124,500 Q 123,501.6 120,501 L 118,500 Q 117,499 117,497 Z"/>
<path class="k" d="M 120,486 L 120,500.4 M 125,487.6 L 129,486 L 130,490 L 126.4,491 M 127,486.6 L 128,490.4"/>
<path class="k" d="M 120,501.2 L 119.6,504.4 L 122.4,504.4 L 122.4,501.6"/>
<path class="k" d="M 120.4,504.4 Q 121,512 118,517.6 Q 115,520 112,517.6 M 122.4,504.4 Q 122.4,512 120,518"/>
<polyline class="t" points="177,497.6 177.6,510"/>
<polyline class="t" points="170.4,595 178,586"/>
<polyline class="t" points="200,586 194,590"/>
<polyline class="t" points="147,623.6 154,639"/>
<polyline class="t" points="164,631.4 161.6,639"/>
<polyline class="t" points="196,621 194,628"/>
<path class="k w" d="M 98.4,557 L 107,552 L 108,550 L 194,501.6 L 194,557 L 97.6,612.4 L 97,611 L 97,559 Z"/>
<path class="g" d="M 100,558.4 L 108,553.6 L 109,551.6 L 192.4,504.4 L 192.4,555 L 99.4,609.6 L 99.4,560 Z"/>
<path class="b" d="M 98.4,557 L 97,559 L 97,611 L 97.6,612.4 L 194,557.6"/>
<path class="k" d="M 97.6,613.2 L 194,558.6"/>
<g stroke="#444" stroke-width=".75" fill="none">
<path d="M126.4,548V566.8 M128.4,546.9V565.7 M130.4,545.8V564.6 M132.4,544.7V563.5 M134.4,543.6V562.4 M136.4,542.5V561.3 M138.4,541.4V560.2 M140.4,540.3V559.1 M142.4,539.2V558 M144.4,538.1V556.9 M146.4,537V555.8 M148.4,535.9V554.7"/>
<path d="M126.4,569V588 M128.4,567.9V586.9 M130.4,566.8V585.8 M132.4,565.7V584.7 M134.4,564.6V583.6 M136.4,563.5V582.5 M138.4,562.4V581.4 M140.4,561.3V580.3 M142.4,560.2V579.2 M144.4,559.1V578.1 M146.4,558V577 M148.4,556.9V575.9"/>
</g>
<path class="g" d="M 125,548.4 L 151,534 L 151,576 L 125,590 Z"/>
<path class="g" d="M 170,518 L 188,508.4 L 188,513.6 L 180,518 L 180,556 L 194,548.4 M 194,552.4 L 170.4,565 L 170.4,560 L 174,558 L 174,524 L 170,526 L 170,518"/>
<path class="g" d="M 171.6,519.6 L 171.6,524.4 M 175.6,523 L 175.6,557.6"/>
<path class="g" d="M 104,565 L 123,554.4 L 123,559 L 112,565 L 112,570 L 123,564 L 123,588 L 105,598 L 104,596 Z"/>
<path class="g" d="M 110,574 Q 110,571 113,570 L 119,567 Q 121,567 121,570 L 121,586 Q 121,588 119,589 L 113,592 Q 110,592.4 110,590 Z"/>
<path class="k" d="M 112,578 Q 112,575 115,573.6 Q 119,572.4 119,576 L 119,584 Q 118.4,587 115,588 Q 112,588.4 112,585.6 Z"/>
<path class="g" d="M 106,554 L 110,551.6 L 110,557 L 106,559 Z"/>
<circle class="g" cx="99.6" cy="572" r="1"/>
<circle class="g" cx="99.6" cy="594" r="1"/>
<circle class="g" cx="123" cy="597" r="1"/>
<circle class="g" cx="102" cy="603" r="0.8"/>
<circle class="g" cx="112" cy="599" r="0.6"/>
<path class="g" d="M 152,577 L 160,573 M 153,578.4 L 159,575"/>
<path class="g" d="M 150,530 L 153,528.4"/>
<path class="k w" d="M 177,578 L 180,577.6 L 182.4,610 L 180,611.6 Z"/>
<path class="g" d="M 178,579 L 180.4,612 M 179,578 L 181.6,611"/>
<path stroke="#444" stroke-width="2.2" stroke-dasharray=".7 .9" fill="none" d="M178.6,580 L180,598"/>
<path class="k w" d="M 176.8,577.2 L 180.2,576.8 L 180.2,578.8 L 176.8,579.2 Z"/>
<path class="k w" d="M 189.6,574 L 193.6,574 L 193.6,608 L 189.6,608 Z"/>
<path stroke="#222" stroke-width="3" stroke-dasharray="1.2 1.6" fill="none" d="M191.6,576 V596"/>
<path class="k w" d="M 193.6,590.4 L 199.6,591 L 200.4,596 L 198,598 L 193.6,597.6 Z"/>
<path class="k" d="M 196,591 L 196,597.6"/>
<path class="k" d="M 189.6,608 L 189.6,612.4 L 193.6,612.4 L 193.6,608"/>
<path class="k w" d="M 187,628 L 199,636.4 L 190,641.6 L 187,638 Z"/>
<path class="k w" d="M 179,624.4 L 182.4,620 L 187,620.4 L 188.4,624 L 186,628 L 181,628.8 Z"/>
<circle class="g" cx="183.6" cy="624.2" r="1.6"/>
<path class="k" d="M 178,627 L 180,629.2 M 182.4,620 L 183.6,618 L 186,618.4 L 187,620.4"/>
<path class="g" d="M 188,630 L 197,636.4 L 190.4,640"/>
<ellipse class="le" cx="177" cy="492" rx="9.15" ry="6"/><text class="lt" x="177" y="494.5">313A</text>
<ellipse class="le" cx="164" cy="599" rx="9.15" ry="6"/><text class="lt" x="164" y="601.5">105A</text>
<ellipse class="le" cx="207.6" cy="585" rx="9.15" ry="6"/><text class="lt" x="207.6" y="587.5">105B</text>
<ellipse class="le" cx="141" cy="620.4" rx="9.15" ry="6"/><text class="lt" x="141" y="622.9">318A</text>
<ellipse class="le" cx="163" cy="626.4" rx="9.15" ry="6"/><text class="lt" x="163" y="628.9">317A</text>
<ellipse class="le" cx="196.6" cy="616" rx="9.15" ry="6"/><text class="lt" x="196.6" y="618.5">619D</text>
<ellipse class="le" cx="120.1" cy="465.2" rx="9.15" ry="6"/><text class="lt" x="120.1" y="467.7">411A</text>
</g>
<g id="p16_303">
<polyline class="dm" points="145.4,660.1 203.5,660.1 203.5,703.9 145.4,703.9 145.4,660.1"/>
<polyline class="t" points="210,681 203,682.4"/>
<polyline class="t" points="164.4,680.4 169,680.4"/>
<polyline class="t" points="189.6,674.4 189.6,678"/>
<polyline class="t" points="145,625 149.6,641"/>
<polyline class="t" points="163,631.6 160,639"/>
<polyline class="t" points="250.6,638.4 251,630"/>
<polyline class="t" points="238.4,694.6 239,702"/>
<path class="k w" d="M 169,679 Q 169,677 173,677 Q 177,677.4 177,680 L 176.4,682.4 Q 175,684 172,683.6 Q 169,683 169,681 Z"/>
<path class="f2" d="M 170,678.4 L 172.4,678 L 172.4,683 L 170,682.4 Z"/>
<path class="k w" d="M 183.6,681 L 188,677.6 L 195,679 L 195,686 L 190,689.6 L 183.6,687 Z"/>
<path class="k" d="M 183.6,681 L 190,683 L 195,679 M 190,683 L 190,689.6"/>
<path class="f1" d="M 187,687.6 L 190,686 L 190,689.6 Z"/>
<path class="b" d="M 157,695 Q 164,696 170,692.4 Q 176,690 182,692 Q 187,693.6 190,694"/>
<path class="k w" d="M 153.6,694 L 157,693.6 L 157.4,696.4 L 154,696.8 Z"/>
<path class="k w" d="M 189.6,692.4 L 195,693.6 L 196,696 L 191,696 Z"/>
<path class="k" d="M 195,694.4 L 197,696"/>
<path class="k" d="M 142,648.4 L 163.6,638 M 143.2,650 L 164.4,639 M 142,648.4 L 143.2,650"/>
<path class="k w" d="M 147.6,642.4 Q 149,640 151,641.6 L 151.6,644.4 L 149,646 Z"/>
<path class="k" d="M 141,647.6 L 146,650 M 154,642.4 L 155.6,645"/>
<ellipse class="le" cx="163.6" cy="599" rx="9.15" ry="6"/><text class="lt" x="163.6" y="601.5">105A</text>
<ellipse class="le" cx="250.6" cy="643.6" rx="9.15" ry="6"/><text class="lt" x="250.6" y="646.1">249V</text>
<ellipse class="le" cx="156" cy="680.4" rx="9.15" ry="6"/><text class="lt" x="156" y="682.9">303C</text>
<ellipse class="le" cx="189.6" cy="669.4" rx="9.15" ry="6"/><text class="lt" x="189.6" y="671.9">304A</text>
<ellipse class="le" cx="219.6" cy="681" rx="9.15" ry="6"/><text class="lt" x="219.6" y="683.5">303A</text>
<ellipse class="le" cx="238.4" cy="689.6" rx="9.15" ry="6"/><text class="lt" x="238.4" y="692.1">312C</text>
<ellipse class="le" cx="147" cy="728" rx="9.15" ry="6"/><text class="lt" x="147" y="730.5">403B</text>
</g>
<g id="p17_249d">
<polyline class="dl" points="225,572 292.4,572 292.4,591.6 331,600 331,622 271,641.6 211,606 225,572"/>
<polyline class="t" points="250.6,638.4 251.6,630"/>
<polyline class="t" points="268,586.4 268,600"/>
<polyline class="t" points="311,607 301,607"/>
<path class="k w" d="M 225,579 L 230,576 L 293,612.4 L 293,624 L 288,626.4 L 281,622.4 L 280,628 L 274,625 L 270,623 L 265,620 L 265,611 L 225,585.6 Z"/>
<path class="k" d="M 225,581 L 288,617 L 293,614.4 M 288,617 L 288,626.4"/>
<path class="g" d="M 227,580 L 289,615.6 M 230,578 L 291,613.6 M 225,583 L 266,608"/>
<path class="k" d="M 232,585 L 232,594 M 241,590.4 L 241,600 M 230,593.6 L 233,595"/>
<path stroke="#333" stroke-width="1.3" stroke-dasharray="2.2 1.2" fill="none" d="M243,590 L270,606"/>
<path stroke="#444" stroke-width="1" stroke-dasharray="1 1.4" fill="none" d="M226,580 L262,601"/>
<path class="g" d="M 265,611 L 270,609 L 270,620 M 274,625 L 274.4,619 L 280,621.6 M 281,622.4 L 284,620 L 284,616"/>
<path class="g" d="M 276,610 L 276,615 L 282,618 L 282,613.6"/>
<ellipse class="le lf" cx="268" cy="581.4" rx="9.15" ry="6"/><text class="lt ltf" x="268" y="583.9">249D</text>
</g>
<g id="p18_312">
<polyline class="t" points="238.08,696 238.4,702.4"/>
<polyline class="t" points="277.92,702.08 277.92,712.8"/>
<polyline class="t" points="232.8,767.2 232.8,758.72"/>
<path class="k w" d="M 210.4,718.4 L 212.8,712.8 L 255.2,696.8 L 260,698.4 L 263.2,704.8 L 260.8,709.6 L 256.8,712 L 217.6,725.6 L 211.2,724 Z"/>
<path class="k" d="M 212.8,712.8 L 217.6,717.12 L 217.6,725.6 M 217.6,717.12 L 256,704 L 255.2,696.8 M 256,704 L 256.8,712 M 256,704 L 263.2,704.8"/>
<path class="b" d="M 223.2,713.6 L 252.8,702.72"/>
<path class="g" d="M 222.4,714.88 L 253.6,704 M 217.6,720 L 256,706.88 M 224,719.68 L 248,713.92 M 212,716 L 216.8,719.2 M 211.2,720.8 L 216.8,722.88"/>
<path class="k" d="M 213.6,713.6 L 215.2,712 M 254.4,699.2 L 258.4,700.48"/>
<path class="k w" d="M 252,735.2 L 252.8,730.4 L 308.8,700 L 315.2,701.6 L 318.4,705.6 L 317.6,709.6 L 313.6,712 L 260,740.8 L 253.6,738.4 Z"/>
<path class="k" d="M 252.8,730.4 L 259.2,732.8 L 260,740.8 M 259.2,732.8 L 312,704 L 308.8,700 M 312,704 L 313.6,712 M 312,704 L 318.4,705.6"/>
<path class="b" d="M 274.88,718.4 L 284.48,713.92"/>
<path class="g" d="M 260,735.2 L 312.32,707.2 M 261.6,734.4 L 289.6,726.4 L 312,708.8 M 272,731.2 L 273.6,733.6 M 254.4,733.6 L 258.4,735.2"/>
<path class="k" d="M 305.6,704 L 307.2,705.6 M 253.6,736 L 256,737.28"/>
<path class="k w" d="M 224,735.2 Q 224,732.8 230.4,732.8 Q 236.8,732.8 236.8,735.2 L 236.8,756 Q 236.8,758.4 230.4,758.4 Q 224,758.4 224,756 Z"/>
<path class="g" d="M 224,735.68 Q 230.4,737.92 236.8,735.68 M 225.28,736.32 L 225.28,757.12 M 235.52,736.32 L 235.52,757.12"/>
<path class="k" d="M 226.88,733.12 L 226.88,730.4 L 228.48,731.2 L 228.48,732.8 M 231.68,732.8 L 231.68,730.4 L 233.28,731.2 L 233.28,733.12"/>
<ellipse class="le" cx="277.6" cy="696.4" rx="9.15" ry="6"/><text class="lt" x="277.6" y="698.9">312D</text>
</g>
<g id="p19_315">
<polyline fill="none" stroke="#2e2e2e" stroke-width="1" stroke-dasharray="9 2 1.5 2" points="161,825 310,737 348,737 348,811 211,889 161,877 161,825"/>
<polyline class="t" points="360,780 348.5,780"/>
<path class="k w" d="M165.4,838 L205,815 L206.6,812.6 L297,761 L300,759 L302,762 L346,787 L345.5,791 L246,845 L222.6,858 L216,857.4 L220.6,860 L220.6,863 L216,866.6 L206.6,865.4 L198.6,858 L190.6,854 L174.6,846 L168,843.4 L165.4,840 Z"/>
<path class="g" d="M168,840 L207,817 L299,764 L341,788 L246,841"/>
<path class="g" d="M171,842.5 L209,820.5 L298,769 L334,789"/>
<path class="g" d="M176,846 L212,825 L298,774"/>
<path class="g" d="M 186.67,834 L 216,820 L 253.33,802.67 M 190.67,836.67 L 220,822.67 L 256,805.73 M 194.67,830 L 204,834.67 M 204,825.33 L 214.67,830.67 M 213.33,820.93 L 224,826.27 M 222.67,816.67 L 233.33,822 M 232,812 L 242.67,817.33 M 241.33,807.6 L 252,812.93"/>
<path class="g" d="M 184,830 L 200,823.33 L 234.67,807.33 M 200,823.33 L 206.67,826.67 M 208,820 L 218.67,824.93 M 217.33,815.6 L 227.33,820.4 M 226.67,811.33 L 236.67,816"/>
<path class="h" d="M 188,834.67 L 216.67,820.93 L 254,803.6 M 192,837.33 L 220.67,823.6 M 195.33,829.33 L 204.67,834 M 204.67,824.67 L 215.33,830 M 214,820.27 L 224.67,825.6 M 223.33,816 L 234,821.33"/>
<path class="g" d="M 216,820 L 234.67,830 L 246.67,830 M 234.67,830 L 226.67,834 M 222.67,834 L 229.33,837.33"/>
<circle class="f2" cx="200" cy="824.93" r="0.33"/>
<circle class="f2" cx="211.33" cy="823.07" r="0.33"/>
<circle class="f2" cx="218.67" cy="822" r="0.33"/>
<circle class="f2" cx="229.33" cy="818" r="0.33"/>
<circle class="f2" cx="238.67" cy="832.93" r="0.33"/>
<circle class="f2" cx="244.67" cy="832" r="0.33"/>
<circle class="f2" cx="248" cy="830" r="0.33"/>
<circle class="f2" cx="196" cy="836" r="0.33"/>
<path class="b w" d="M 176,843.6 Q 175.73,842.67 177.07,842 L 184.27,838.8 Q 185.6,838.4 186.67,839.07 L 194.67,843.6 Q 195.73,844.67 194.93,846 L 189.6,849.73 Q 188.27,850.27 186.93,849.73 L 177.07,845.33 Q 176,844.67 176,843.6 Z"/>
<path class="f1" d="M 180,842.67 L 183.33,840.93 L 186,842.27 L 185.33,844 L 187.33,844.93 L 186,846.67 L 183.33,846 L 181.33,844.67 Z"/>
<path class="w" d="M 182,842.27 L 183.33,841.73 L 184,843.07 L 182.67,843.6 Z"/>
<path class="b" d="M 175.33,847.33 L 186.67,852.67"/>
<path class="g" d="M 168,840.67 L 173.33,838.67 L 176,840.67 M 170.67,842.67 L 174.67,844.67"/>
<path class="g" d="M 196,851.6 L 212,843.07 L 222.67,839.6 L 232,836 L 245.33,843.33 L 222.67,855.33 L 213.33,856.67 L 206.67,862 L 196,853.33 Z"/>
<path class="g" d="M196.67,852 L212.27,843.6 M197.73,852.93 L213.33,844.53 M198.8,853.87 L214.4,845.47 M199.87,854.8 L215.47,846.4 M200.93,855.73 L216.53,847.33 M202,856.67 L217.6,848.27 M203.07,857.6 L218.67,849.2 M204.13,858.53 L219.73,850.13 M205.2,859.47 L220.8,851.07 M206.27,860.4 L221.87,852"/>
<path class="g" d="M213.33,843.33 L232,836.67 M214.53,844.47 L233.2,837.8 M215.73,845.6 L234.4,838.93 M216.93,846.73 L235.6,840.07 M218.13,847.87 L236.8,841.2 M219.33,849 L238,842.33 M220.53,850.13 L239.2,843.47 M221.73,851.27 L240.4,844.6 M222.93,852.4 L241.6,845.73 M224.13,853.53 L242.8,846.87 M225.33,854.67 L244,848"/>
<path class="g" d="M 212,843.33 L 222.67,855.33 M 204,847.33 L 213.33,856.67"/>
<path class="k" d="M 198.67,857.33 L 206.67,864.67 L 216,866 L 220,862.67 M 200,859.33 L 205.33,862 M 209.33,858.67 L 217.33,860.67 L 217.33,862.67"/>
<path class="g" d="M 201.33,856.67 L 208,860 L 216,859.33"/>
<ellipse class="k" cx="283" cy="791" rx="11" ry="6.4" transform="rotate(-8 283 791)"/>
<ellipse class="g" cx="283" cy="791" rx="9.5" ry="5.2" transform="rotate(-8 283 791)"/>
<path class="g" d="M278,789 L283,790 M284,793 L289,794"/>
<path class="k" d="M250,800 L258,796 L266,800 L266,806 L258,810 L250,806 Z M258,796 L258,802 L250,806 M258,802 L266,806"/>
<path class="g" d="M268,806 L274,803 L274,810 M279,798 L279,806 M262,812 L270,808 M272,814 L282,808"/>
<path class="g" d="M262,790 L262,796 M270,786 L270,792 M295,797 L295,803 M300,780 L300,786 M281,802 L281,808"/>
<path class="b w" d="M293,774 L304,769 L313,777 L307,782 L299,780 Z"/>
<path class="f1" d="M299,773 L304,771 L307,776 L302,778 Z"/>
<path class="g" d="M288,776 L296,783 L310,786 L318,780 M300,765 L318,772 L330,780"/>
<polyline class="t" points="312,758 304,768"/>
<polyline class="t" points="325,768 310,770 296,768"/>
<path class="k" d="M278,813 L336,784 L342,788 L290,819 L282,818 Z"/>
<path class="g" d="M279,814 L337,785 M279.7,814.75 L337.7,785.75 M280.4,815.5 L338.4,786.5 M281.1,816.25 L339.1,787.25 M281.8,817 L339.8,788 M282.5,817.75 L340.5,788.75 M283.2,818.5 L341.2,789.5"/>
<path stroke="#666" stroke-width="2.8" stroke-dasharray=".5 .8" fill="none" d="M282,814.5 L338,786.5"/>
<path class="g" d="M327,779 L340,785 M330,782 L336,778 M322,776 L344,787"/>
<circle class="f2" cx="252" cy="833" r="0.6"/>
<circle class="f2" cx="262" cy="826" r="0.6"/>
<circle class="f2" cx="275" cy="820" r="0.6"/>
<circle class="f2" cx="240" cy="812" r="0.6"/>
<circle class="f2" cx="292" cy="800" r="0.6"/>
<polyline class="t" points="205,826 210,832"/>
<polyline class="t" points="222,838 232,834"/>
<ellipse class="le" cx="198.6" cy="822.6" rx="9.15" ry="6"/><text class="lt" x="198.6" y="825.1">315B</text>
<ellipse class="le" cx="214.8" cy="834.6" rx="9.15" ry="6"/><text class="lt" x="214.8" y="837.1">315C</text>
<ellipse class="le" cx="317" cy="753.6" rx="9.15" ry="6"/><text class="lt" x="317" y="756.1">315B</text>
<ellipse class="le" cx="334" cy="766.4" rx="9.15" ry="6"/><text class="lt" x="334" y="768.9">315C</text>
<ellipse class="le" cx="369.4" cy="781" rx="9.15" ry="6"/><text class="lt" x="369.4" y="783.5">315A</text>
<ellipse class="le" cx="228.6" cy="773.4" rx="9.15" ry="6"/><text class="lt" x="228.6" y="775.9">410G</text>
</g>
<g id="p20_compressor">
<polyline class="t" points="101,666.4 101,675.6"/>
<polyline class="t" points="123,663.4 123,670"/>
<polyline class="t" points="111.6,709.6 103.4,709.6"/>
<polyline class="t" points="85.4,717.6 86,709"/>
<polyline class="t" points="184,748.4 184,761.6"/>
<polyline class="t" points="146.4,761.4 157,765"/>
<path class="t" stroke-dasharray="3 1 .6 1" d="M101,678 V706"/>
<path class="t" stroke-dasharray="3 1 .6 1" d="M126,758 L168,736 M126,758 V788 M172,776 L202,755 M100,800 L157,772"/>
<path class="k w" d="M 98,692.4 L 105,689 L 130,690 L 137,685.6 L 136.4,689 L 115,701 L 110,700 L 98,694.4 Z"/>
<path class="k w" d="M 104,680 Q 104,670 118,669 Q 131,670 131,679 L 131,689 Q 126,695 115,695 Q 105,694.4 104,690 Z"/>
<path class="k" d="M 104,681 Q 107,685 118,684 Q 128,683 131,679 M 104.4,683 Q 108,687 118,686 Q 129,685 131,681.6"/>
<path class="g" d="M 108,673 Q 114,670 124,672 M 105,688 Q 110,692.4 120,692.4"/>
<circle class="k w" cx="101" cy="677" r="1"/>
<path class="k" d="M 111,698.4 L 115,699.6"/>
<path class="k w" d="M 98.4,708 Q 98.4,706.8 101,706.8 Q 103.4,706.8 103.4,708 L 103.4,712 Q 103.4,713.2 101,713.2 Q 98.4,713.2 98.4,712 Z"/>
<path class="g" d="M 98.4,709 Q 101,710 103.4,709"/>
<path class="g" d="M 94.4,687.6 Q 88,692 86,698 L 85.6,709 M 96,689 Q 90,693 87.6,698.4 L 87.2,709 M 85.6,709 L 87.2,709"/>
<path class="g w" d="M 142,736.67 Q 144,734.67 145.73,735.6 L 150,742 L 151.6,744.93 L 146.27,745.73 Q 142.67,743.33 141.73,740 Z"/>
<path class="g w" d="M 154.67,745.73 Q 160.67,744.4 164.67,748 Q 164,751.07 162,751.33 Q 158,751.33 154.67,748.67 Z"/>
<path class="g w" d="M 150,748.67 Q 154.67,749.33 156.67,754 Q 155.33,756.67 152.4,756.67 Q 148.93,756 148.4,753.33 Z"/>
<circle class="k w" cx="152.67" cy="745.33" r="1.73"/>
<path class="g" d="M 151.33,744.4 L 154,746.27 M 151.6,746.27 L 153.73,744.4"/>
<path class="b" d="M 152.67,732.67 Q 152.93,737.33 155.33,740 Q 158.27,742 157.33,746.27"/>
<path class="k w" d="M 157,760.4 L 159,759.6 L 170.4,769.6 L 170.4,784.4 L 168,785.6 L 157,778 Z"/>
<ellipse class="g w" cx="163.6" cy="773" rx="4" ry="6" transform="rotate(-10 163.6 773)"/>
<path class="k" d="M 157,760.4 L 168,770 L 168,785.6 M 168,770 L 170.4,769.6"/>
<path class="f1" d="M 180,764.4 L 188,760 L 194.4,763 L 194.4,770 L 186.4,774.4 L 180,771 Z"/>
<path class="w" d="M 180.8,765.6 L 186.4,768.4 L 186.4,769 L 180.8,766.2 Z"/>
<path class="hw" d="M181.2,767.6 L181.2,771 M182.1,768.04 L182.1,771.44 M183,768.48 L183,771.88 M183.9,768.92 L183.9,772.32 M184.8,769.36 L184.8,772.76 M185.7,769.8 L185.7,773.2"/>
<path class="hw" d="M187.2,770.4 L187.2,773.6 M188.2,769.88 L188.2,773.08 M189.2,769.36 L189.2,772.56 M190.2,768.84 L190.2,772.04 M191.2,768.32 L191.2,771.52 M192.2,767.8 L192.2,771 M193.2,767.28 L193.2,770.48"/>
<path stroke="#fff" stroke-width=".4" d="M181,771 V765 M183,772 V766 M185,773 V767 M187,772 V767 M189,771 V766 M191,770 V765"/>
<path class="k" d="M 182,772 L 182,774.4 L 188,777 L 193,774 L 193,771"/>
<ellipse class="le" cx="101" cy="661.4" rx="9.15" ry="6"/><text class="lt" x="101" y="663.9">314A</text>
<ellipse class="le" cx="123" cy="658.4" rx="9.15" ry="6"/><text class="lt" x="123" y="660.9">300A</text>
<ellipse class="le" cx="120.4" cy="709.6" rx="9.15" ry="6"/><text class="lt" x="120.4" y="712.1">306A</text>
<ellipse class="le" cx="85.4" cy="722.6" rx="9.15" ry="6"/><text class="lt" x="85.4" y="725.1">310B</text>
<ellipse class="le" cx="184" cy="743.4" rx="9.15" ry="6"/><text class="lt" x="184" y="745.9">301A</text>
<ellipse class="le" cx="138" cy="761.4" rx="9.15" ry="6"/><text class="lt" x="138" y="763.9">308B</text>
</g>
<g id="p21_308a">
<polyline class="t" points="85.73,794.67 86.27,804"/>
<path class="g w" d="M 87.33,804.4 L 121.33,785.33 L 122.27,787.33 L 122.27,792 L 90,810 Z"/>
<path class="k w" d="M 90,814 L 123.33,796 L 125.33,790 L 127.6,788.67 L 134,792 L 140.67,788 L 144.67,788.67 L 160.67,797.33 L 160.67,800.93 L 100,836.27 L 89.33,831.33 L 89.33,826 L 83.33,824 L 83.33,820.67 Z"/>
<path class="k" d="M 90,816 L 124,797.73 L 126,792 L 133.73,794 L 140.93,790 L 158.67,798.67 L 100,832.93 L 90,828 M 100,832.93 L 100,836.27"/>
<path class="g" d="M 126,792 L 126,812.67 M 133.73,794 L 128.67,799.33 L 110,810 L 96.67,812.67 M 127.33,810 L 132.67,808 L 139.33,811.33 L 139.33,814 L 128.67,816 L 127.33,815.33 Z M 132.67,808 L 132.67,811.33 L 128.67,813.33"/>
<path class="g" d="M 139.33,798.67 Q 142,794.67 147.33,796 Q 151.33,798 150,802 M 138,800 L 148.67,805.33 M 142.67,796.67 L 151.33,801.33"/>
<path class="g" d="M 90,818 L 104.67,824.67 M 126,815.33 L 126,819.33 M 110,810 L 110,814"/>
<path class="k w" d="M 108,800.4 L 117.33,795.33 L 121.33,797.33 L 121.33,800.93 L 112,806 L 108,804 Z"/>
<path class="k" d="M108.93,800.4 L108.93,803.87 M109.87,799.89 L109.87,803.36 M110.8,799.39 L110.8,802.85 M111.73,798.88 L111.73,802.35 M112.67,798.37 L112.67,801.84 M113.6,797.87 L113.6,801.33 M114.53,797.36 L114.53,800.83 M115.47,796.85 L115.47,800.32 M116.4,796.35 L116.4,799.81 M117.33,795.84 L117.33,799.31 M118.27,795.33 L118.27,798.8 M119.2,794.83 L119.2,798.29"/>
<path class="k" d="M 102,802.67 L 104.67,801.33 L 105.33,804.67 M 122.67,791.33 L 124.67,793.33 L 124,796"/>
<path class="k w" d="M 77.33,808.93 L 80,807.33 L 86,804 L 87.6,806.27 L 87.6,820.67 L 82,824.67 L 78,822.67 Z"/>
<path class="g" d="M 80,808 L 80,823.33 M 82.67,806.67 L 82.67,824 M 86,804.67 L 86,821.33 M 78.27,810 L 78.27,822.27"/>
<path class="f1" d="M 90,814.27 L 92.4,813.33 L 92.67,820.4 L 90.27,821.33 Z M 96,814.27 L 98.67,815.33 L 98.67,818.27 L 96,817.33 Z M 106,822.67 L 112.4,821.33 L 112.67,826 L 110,828.67 L 106,827.6 Z M 108,816.67 L 110,816 L 110.27,819.6 L 108.4,820.4 Z"/>
<path class="w" d="M 107.33,823.6 L 110,823.07 L 110.27,824.93 L 107.6,825.47 Z"/>
<path class="k" d="M 92.67,814.67 L 107.33,821.33 M 92.67,818 L 106,824 M 98.67,816 L 98.67,822.67 M 90,821.33 L 106,828.67"/>
<ellipse class="le" cx="85.6" cy="788.6" rx="9.15" ry="6"/><text class="lt" x="85.6" y="791.1">308A</text>
</g>
<g id="p22_120a">
<polyline class="dd" points="403.4,373 487.4,313.6 577.6,336 577.6,463 470,463 403.4,421 403.4,373"/>
<polyline class="ds" points="523,388 533,382.4 550,391 550,458 542,462 523,450 523,388"/>
<polyline class="t" points="450,328 458.6,331.6"/>
<polyline class="t" points="484,341.4 491,349.6"/>
<polyline class="t" points="522,340.4 513.4,357.6"/>
<polyline class="t" points="451,358.4 445,362.4"/>
<polyline class="t" points="458,388 455,401"/>
<polyline class="t" points="458,388 465,400"/>
<polyline class="t" points="458,388 461.6,413"/>
<polyline class="t" points="421.4,413.6 417.4,408"/>
<polyline class="t" points="440,420 438,411.6"/>
<path class="k w" d="M 411,387 L 444,360 L 445,367 L 440,373 L 440,389 L 434,394 L 427,395 L 421,409 L 414,406 L 411,396 Z"/>
<path class="k" d="M 412,389 L 443,363 M 415,391 L 425,383 L 425,388 M 428,378 L 428,389 L 434,386 M 436,379 L 436,388 L 439.4,387"/>
<path class="g" d="M 419,384 L 419,389 M 423,380 L 423,386 M 437,370 L 438,374"/>
<path class="k w" d="M 413,400 Q 414,392 423,391 Q 428,392 427,398 Q 425,406 417,408 Q 412.6,406 413,400 Z"/>
<path class="k" d="M 415,404 Q 421,405 426,396 M 414,401 Q 419,400 425,393"/>
<circle class="g" cx="420.6" cy="397" r="0.8"/>
<path class="b" d="M 412.6,400 Q 413,408 419,410 Q 423,409 428,394"/>
<path class="k w" d="M 433,404 Q 433,398 439,396.4 Q 445,397 444.6,403 Q 444,410 438,411 Q 433,410 433,404 Z"/>
<ellipse class="g" cx="439" cy="403.6" rx="4.4" ry="5.6" transform="rotate(20 439 403.6)"/>
<path class="k" d="M434.6,401 L443,399 M434.6,402.2 L443,400.2 M434.6,403.4 L443,401.4 M434.6,404.6 L443,402.6 M434.6,405.8 L443,403.8 M434.6,407 L443,405 M434.6,408.2 L443,406.2"/>
<path class="k" d="M 434,410 L 433,412.4 M 441,411 L 442,413"/>
<circle class="f1" cx="454.9" cy="402.2" r="1.6"/>
<circle class="f1" cx="465.7" cy="401.6" r="1.6"/>
<circle class="f1" cx="461.7" cy="413.8" r="1.6"/>
<circle class="f3" cx="454.9" cy="402.2" r="0.6"/>
<circle class="f3" cx="465.7" cy="401.6" r="0.6"/>
<circle class="f3" cx="461.7" cy="413.8" r="0.6"/>
<polyline class="t" points="559,448 552,443"/>
<path class="k w" d="M 470,356.67 L 490.67,350 L 496,346 L 512,334 L 513.07,331.33 L 513.33,356.67 L 513.6,390 L 517.33,411.33 L 516.67,415.33 L 512,420.67 L 497.33,427.33 L 493.33,429.33 L 480,435.33 L 470.4,433.73 L 469.6,390 Z"/>
<path class="g" d="M 474,358 L 473.33,390 L 474,433.33 M 470,356.67 L 474,358 L 490.67,351.6"/>
<path class="g" d="M 473.6,377.73 Q 484,376.67 493.33,371.6 M 496.67,370 Q 506.67,366 513.33,363.07"/>
<path class="g" d="M 473.6,418.67 Q 485.33,416.67 494,410.67 M 497.33,408.93 Q 509.33,405.33 517.07,412"/>
<path class="g" d="M 473.33,399.33 Q 484,398 493.33,392.67 M 496.67,391.33 Q 506.67,387.33 513.6,385.33"/>
<path class="k" d="M 493.33,368.67 L 493.6,428.67 M 496.67,368 L 497.07,427.07"/>
<path class="g" d="M 494.93,368.67 L 495.33,428"/>
<path class="b" d="M 490,382.93 L 498.67,378.93 M 490,407.6 L 499.33,403.6"/>
<path stroke="#333" stroke-width="1.6" fill="none" d="M477.6,358 L489.6,354.2 M502.6,343.2 L510.6,337.4"/>
<path class="k" d="M 512,334 L 512,331.07 L 513.33,330.53 L 513.33,332.67"/>
<path class="k w" d="M 490.67,350.27 Q 492.67,345.33 498.67,345.73 L 502,347.33 L 502.67,356.67 L 500.67,366 L 491.33,364.93 Z"/>
<path class="k" d="M 492.67,352 L 500.67,350 M 492.67,362 L 500.67,360 M 494.67,347.33 L 495.33,364 M 499.33,346.67 L 500,364.93"/>
<path class="f1" d="M 491.33,362.67 L 493.33,362 L 493.33,364.93 L 491.33,364.93 Z M 498.67,357.33 L 500.67,356.67 L 500.67,360 L 498.67,360.4 Z"/>
<path class="b w" d="M 502.67,361.33 Q 504,357.33 508.67,357.73 Q 513.07,358.67 512.67,364 Q 512,369.33 507.33,370 Q 502.67,369.33 502.67,364.67 Z"/>
<ellipse class="f1" cx="507.73" cy="364" rx="3.2" ry="4.27" transform="rotate(15 507.73 364)"/>
<path class="hw" d="M505.33,360.67 L505.33,367.33 M506.13,360.53 L506.13,367.2 M506.93,360.4 L506.93,367.07 M507.73,360.27 L507.73,366.93 M508.53,360.13 L508.53,366.8 M509.33,360 L509.33,366.67 M510.13,359.87 L510.13,366.53"/>
<path class="k" d="M 512.67,355.33 L 513.33,370 M 501.33,370 L 504,371.6 L 512,370"/>
<path class="k w" d="M 472,434 Q 471,444 478,449 L 485,450 Q 493,448 493,439 L 493,430.4 L 480,436 Z"/>
<ellipse class="k w" cx="487" cy="441.6" rx="5.2" ry="7.2" transform="rotate(15 487 441.6)"/>
<ellipse class="g" cx="487" cy="441.6" rx="3.6" ry="5.4" transform="rotate(15 487 441.6)"/>
<path class="k" d="M 503,432 L 510,429 L 512,430 L 512,440.4 L 505,443 L 503,441.6 Z M 505,433.6 L 505,443 M 505,433.6 L 512,430"/>
<path class="f1" d="M 495.6,438 L 499,439 L 498,441 L 496.4,440.4 Z M 497.6,441.6 L 500,440.4 L 500.4,442.4 Z"/>
<path class="k" d="M 475,450 L 478,452.4 L 477,454"/>
<path class="k w" d="M 519,357 L 530,354 L 530,366 L 519,369 Z"/>
<path class="g" d="M 520,358 L 529,355.4 L 529,365.2 L 520,367.8 Z"/>
<path class="k w" d="M 539,398.4 L 541,396.4 L 544,400 L 544,451 L 541.6,452.4 L 539,450 Z"/>
<path class="g" d="M 540.4,398 L 540.4,451 M 542.6,399 L 542.6,451.6"/>
<path class="k" d="M539.4,405 L543.6,407 M539.4,411.6 L543.6,413.6 M539.4,418.2 L543.6,420.2 M539.4,424.8 L543.6,426.8 M539.4,431.4 L543.6,433.4 M539.4,438 L543.6,440 M539.4,444.6 L543.6,446.6"/>
<path class="g" d="M539.4,408.4 L543.6,410.4 M539.4,415 L543.6,417 M539.4,421.6 L543.6,423.6 M539.4,428.2 L543.6,430.2 M539.4,434.8 L543.6,436.8 M539.4,441.4 L543.6,443.4 M539.4,448 L543.6,450"/>
<ellipse class="le" cx="446.6" cy="325.4" rx="9.15" ry="6"/><text class="lt" x="446.6" y="327.9">120A</text>
<ellipse class="le" cx="481.4" cy="337" rx="9.15" ry="6"/><text class="lt" x="481.4" y="339.5">409H</text>
<ellipse class="le" cx="524" cy="336" rx="9.15" ry="6"/><text class="lt" x="524" y="338.5">628A</text>
<ellipse class="le" cx="536" cy="346.4" rx="9.15" ry="6"/><text class="lt" x="536" y="348.9">631C</text>
<ellipse class="le" cx="455.4" cy="355.4" rx="9.15" ry="6"/><text class="lt" x="455.4" y="357.9">405E</text>
<ellipse class="le" cx="458" cy="383" rx="9.15" ry="6"/><text class="lt" x="458" y="385.5">327B</text>
<ellipse class="le" cx="421.4" cy="418.4" rx="9.15" ry="6"/><text class="lt" x="421.4" y="420.9">332D</text>
<ellipse class="le" cx="441" cy="425" rx="9.15" ry="6"/><text class="lt" x="441" y="427.5">404C</text>
<ellipse class="le" cx="565.6" cy="450.4" rx="9.15" ry="6"/><text class="lt" x="565.6" y="452.9">145A</text>
</g>
<g id="p23_249m">
<polyline class="dd" points="379,489 379,467.6 429,467.6 435,473.6 435,490 390,490"/>
<path class="k" d="M 392.4,471.6 Q 400,475 408,472.4 L 416.4,473.6"/>
<circle class="g w" cx="417.2" cy="473.6" r="0.7"/>
<circle class="g w" cx="392" cy="471.2" r="0.6"/>
<polyline class="t" points="393.6,484 387,486"/>
<polyline class="t" points="410,500 405,504.4"/>
<polyline class="t" points="421,507 418.4,511"/>
<polyline class="t" points="411.6,523 405,520.4"/>
<polyline class="t" points="398.4,561.6 384,556"/>
<polyline class="t" points="475.6,533.6 478,546.4"/>
<polyline class="t" points="480,531.6 496,530"/>
<polyline class="t" points="465.6,591.6 465.6,596.4"/>
<path class="k w" d="M 384,509 L 387,506.4 L 396,506.4 L 400,503 L 405,504 L 405,506.4 L 392,512.4 L 386,512 Z"/>
<path class="k" d="M 396,506.4 L 397,503 L 399,502.4 L 400,503 M 387,506.4 L 388,509 L 392,512.4"/>
<polyline class="k" points="415.6,511 419,513"/>
<polyline class="k" points="415.2,511.6 416.4,510.4"/>
<path class="k" d="M 401,518 L 405,521 M 400.4,518.8 L 401.6,517.2"/>
<path class="h" d="M 392,512.4 L 400,516.4 M 394,511.6 L 401.6,515.6"/>
<path class="k w" d="M 442.4,563.4 L 475,548 Q 476.4,547.2 478,548 L 492.4,555.2 Q 494.4,556.8 492.4,558.4 L 459,574 Q 457.4,574.8 455.6,574 L 442,566.4 Q 440,565 442.4,563.4 Z"/>
<path class="k w" d="M 471,565.6 L 479,562 L 480,563.2 L 472,567 Z"/>
<path class="k w" d="M 493.6,535 L 527.6,518.4 Q 529,517.6 530.6,518.4 L 543.6,525 Q 545.6,526.6 543.6,528.2 L 511,544 Q 509.4,544.8 507.6,544 L 493.6,537.6 Q 491.6,536.4 493.6,535 Z"/>
<path class="k w" d="M 522,537 L 530,533.4 L 531,534.6 L 523,538.4 Z"/>
<ellipse class="le" cx="402" cy="483.6" rx="9.15" ry="6"/><text class="lt" x="402" y="486.1">249M</text>
<ellipse class="le" cx="423" cy="483.6" rx="9.15" ry="6"/><text class="lt" x="423" y="486.1">249G</text>
<ellipse class="le" cx="413.6" cy="497.6" rx="9.15" ry="6"/><text class="lt" x="413.6" y="500.1">262B</text>
<ellipse class="le" cx="428.6" cy="505" rx="9.15" ry="6"/><text class="lt" x="428.6" y="507.5">S14</text>
<ellipse class="le" cx="419.6" cy="524.4" rx="9.15" ry="6"/><text class="lt" x="419.6" y="526.9">B02</text>
<ellipse class="le" cx="475.6" cy="528.6" rx="9.15" ry="6"/><text class="lt" x="475.6" y="531.1">146C</text>
<ellipse class="le" cx="465.6" cy="586.4" rx="9.15" ry="6"/><text class="lt" x="465.6" y="588.9">302B</text>
</g>
<g id="p24_evap">
<g>
<polygon class="g w" points="451.6,626 500,599 508,604 462,631"/>
<polygon class="g w" points="462,631 508,604 508,636 462,664"/>
<path class="fin" d="M463.9,629.9v20 M465.8,628.8v20 M467.8,627.6v20 M469.7,626.5v20 M471.6,625.4v20 M473.5,624.2v20 M475.4,623.1v20 M477.3,622.0v20 M479.2,620.9v20 M481.2,619.8v20 M483.1,618.6v20 M485.0,617.5v20 M486.9,616.4v20 M488.8,615.2v20 M490.8,614.1v20 M492.7,613.0v20 M494.6,611.9v20 M496.5,610.8v20 M498.4,609.6v20 M500.3,608.5v20 M502.2,607.4v20 M504.2,606.2v20 M506.1,605.1v20"/>
<path class="h" d="M463.9,651.4v9 M465.8,650.2v9 M467.8,649.1v9 M469.7,648.0v9 M471.6,646.9v9 M473.5,645.8v9 M475.4,644.6v9 M477.3,643.5v9 M479.2,642.4v9 M481.2,641.2v9 M483.1,640.1v9 M485.0,639.0v9 M486.9,637.9v9 M488.8,636.8v9 M490.8,635.6v9 M492.7,634.5v9 M494.6,633.4v9 M496.5,632.2v9 M498.4,631.1v9 M500.3,630.0v9 M502.2,628.9v9 M504.2,627.8v9 M506.1,626.6v9"/>
<path class="h" d="M463.9,629.9l-9.6,-4.6 M465.8,628.8l-9.6,-4.6 M467.8,627.6l-9.6,-4.6 M469.7,626.5l-9.6,-4.6 M471.6,625.4l-9.6,-4.6 M473.5,624.2l-9.6,-4.6 M475.4,623.1l-9.6,-4.6 M477.3,622.0l-9.6,-4.6 M479.2,620.9l-9.6,-4.6 M481.2,619.8l-9.6,-4.6 M483.1,618.6l-9.6,-4.6 M485.0,617.5l-9.6,-4.6 M486.9,616.4l-9.6,-4.6 M488.8,615.2l-9.6,-4.6 M490.8,614.1l-9.6,-4.6 M492.7,613.0l-9.6,-4.6 M494.6,611.9l-9.6,-4.6 M496.5,610.8l-9.6,-4.6 M498.4,609.6l-9.6,-4.6 M500.3,608.5l-9.6,-4.6 M502.2,607.4l-9.6,-4.6 M504.2,606.2l-9.6,-4.6 M506.1,605.1l-9.6,-4.6"/>
<path class="g" d="M462,652 L508,625 M462,653.5 L508,626.5"/>
<path class="k" d="M500,599 L508,604 L508,636"/>
<polygon class="k w" points="451.6,626 462,631 462,664 451.6,659"/>
<circle class="k w" cx="456.8" cy="634.5" r="2.5"/><circle class="g" cx="456.8" cy="634.5" r="1.2"/>
<circle class="k w" cx="456.8" cy="641.8" r="2.5"/><circle class="g" cx="456.8" cy="641.8" r="1.2"/>
<circle class="k w" cx="456.8" cy="649.1" r="2.5"/><circle class="g" cx="456.8" cy="649.1" r="1.2"/>
<circle class="k w" cx="456.8" cy="656.4" r="2.5"/><circle class="g" cx="456.8" cy="656.4" r="1.2"/>
<path class="g" d="M453,630 v28 M460.6,633 v29"/>
<path class="k" d="M488,590 q2,-2 4,0 v4 M492,590 q2,-2 4,0 v4 M496,588 h4 q3,0 3,3 v9 M497,590 h3 q1.5,0 1.5,1.5 v8 M488,588 h8"/>
</g>
<g transform="translate(76,55)">
<polygon class="g w" points="451.6,626 500,599 508,604 462,631"/>
<polygon class="g w" points="462,631 508,604 508,636 462,664"/>
<path class="fin" d="M463.9,629.9v20 M465.8,628.8v20 M467.8,627.6v20 M469.7,626.5v20 M471.6,625.4v20 M473.5,624.2v20 M475.4,623.1v20 M477.3,622.0v20 M479.2,620.9v20 M481.2,619.8v20 M483.1,618.6v20 M485.0,617.5v20 M486.9,616.4v20 M488.8,615.2v20 M490.8,614.1v20 M492.7,613.0v20 M494.6,611.9v20 M496.5,610.8v20 M498.4,609.6v20 M500.3,608.5v20 M502.2,607.4v20 M504.2,606.2v20 M506.1,605.1v20"/>
<path class="h" d="M463.9,651.4v9 M465.8,650.2v9 M467.8,649.1v9 M469.7,648.0v9 M471.6,646.9v9 M473.5,645.8v9 M475.4,644.6v9 M477.3,643.5v9 M479.2,642.4v9 M481.2,641.2v9 M483.1,640.1v9 M485.0,639.0v9 M486.9,637.9v9 M488.8,636.8v9 M490.8,635.6v9 M492.7,634.5v9 M494.6,633.4v9 M496.5,632.2v9 M498.4,631.1v9 M500.3,630.0v9 M502.2,628.9v9 M504.2,627.8v9 M506.1,626.6v9"/>
<path class="h" d="M463.9,629.9l-9.6,-4.6 M465.8,628.8l-9.6,-4.6 M467.8,627.6l-9.6,-4.6 M469.7,626.5l-9.6,-4.6 M471.6,625.4l-9.6,-4.6 M473.5,624.2l-9.6,-4.6 M475.4,623.1l-9.6,-4.6 M477.3,622.0l-9.6,-4.6 M479.2,620.9l-9.6,-4.6 M481.2,619.8l-9.6,-4.6 M483.1,618.6l-9.6,-4.6 M485.0,617.5l-9.6,-4.6 M486.9,616.4l-9.6,-4.6 M488.8,615.2l-9.6,-4.6 M490.8,614.1l-9.6,-4.6 M492.7,613.0l-9.6,-4.6 M494.6,611.9l-9.6,-4.6 M496.5,610.8l-9.6,-4.6 M498.4,609.6l-9.6,-4.6 M500.3,608.5l-9.6,-4.6 M502.2,607.4l-9.6,-4.6 M504.2,606.2l-9.6,-4.6 M506.1,605.1l-9.6,-4.6"/>
<path class="g" d="M462,652 L508,625 M462,653.5 L508,626.5"/>
<path class="k" d="M500,599 L508,604 L508,636"/>
<polygon class="k w" points="451.6,626 462,631 462,664 451.6,659"/>
<circle class="k w" cx="456.8" cy="634.5" r="2.5"/><circle class="g" cx="456.8" cy="634.5" r="1.2"/>
<circle class="k w" cx="456.8" cy="641.8" r="2.5"/><circle class="g" cx="456.8" cy="641.8" r="1.2"/>
<circle class="k w" cx="456.8" cy="649.1" r="2.5"/><circle class="g" cx="456.8" cy="649.1" r="1.2"/>
<circle class="k w" cx="456.8" cy="656.4" r="2.5"/><circle class="g" cx="456.8" cy="656.4" r="1.2"/>
<path class="g" d="M453,630 v28 M460.6,633 v29"/>
<path class="k" d="M488,590 q2,-2 4,0 v4 M492,590 q2,-2 4,0 v4 M496,588 h4 q3,0 3,3 v9 M497,590 h3 q1.5,0 1.5,1.5 v8 M488,588 h8"/>
</g>
</g>
<g id="p25_evap_boxes">
<polyline class="dd" points="448,608 490,582.4 510,582.4 516,552.4 542.4,552.4 542.4,642 479,676 458,677.6 448,671 448,608"/>
<polyline class="dd" points="518,570 539,570 539,635 473,671 472,648 481,642 485,654 516,637 517,590 518,570"/>
<polyline class="dd" points="523,663 566,636.4 582,636.4 597,593.6 619,593.6 619,699 553,728 537,728 523,718 523,663"/>
<polyline class="dd" points="598,610 612,610 612,690 545,724 545,717 586,692 596,640 598,610"/>
<polyline class="dd" points="587,530 600,513 660.4,513 660.4,595 634,598 587,574 587,530"/>
<polyline class="t" points="465.6,592 465.6,597"/>
<polyline class="t" points="528.4,567 528.4,570"/>
<polyline class="t" points="572.4,630 572.4,632.5"/>
<polyline class="t" points="606,606.5 606,610"/>
<path class="k w" d="M520,597 h5.6 v13 h-5.6 Z"/>
<path class="k w" d="M528.4,597 h5.6 v13 h-5.6 Z"/>
<path class="k" d="M522.8,597 Q522,585 527,579 M531,597 Q532,585 529,579"/>
<path class="g" d="M524,597 Q523.5,586 528,580 M529.8,597 Q530.5,586 528,580"/>
<ellipse class="k w" cx="528" cy="577.5" rx="2.6" ry="1.6"/>
<path class="g" d="M521.5,599 v9 M530,599 v9"/>
<path class="k" d="M478,663 L536,633 L537,635 L479,665.5 Z"/>
<path class="g" d="M480,661 L534,633"/>
<path class="k" d="M532,632 Q532,622 534,618 L536,615"/>
<path class="k w" d="M534.5,614 l2.5,-1.5 l1,1.8 l-2.5,1.5 Z"/>
<path class="k w" d="M595,640 h5.6 v13 h-5.6 Z"/>
<path class="k w" d="M604,639 h5.6 v13 h-5.6 Z"/>
<path class="k" d="M598,640 Q597,628 602.5,621.5 M607,639 Q607.5,628 604,621.5"/>
<path class="g" d="M599.2,640 Q598.5,629 603.2,622.5 M605.6,639 Q606,629 603.6,622.5"/>
<ellipse class="k w" cx="603.2" cy="620" rx="2.6" ry="1.6"/>
<path class="g" d="M596.5,642 v9 M605.5,641 v9"/>
<path class="k" d="M547,718 L604,687 Q607,685 607,681 L608,668 M549,721 L606,690 Q610,687 610,682 L610.5,668"/>
<path class="g" d="M547,718 L549,721"/>
<path class="k" d="M608.5,667 l1.5,-2.5 M609,664 l2,-1"/>
<path class="k w" d="M593,540 L602,536 L612,534 Q625,532 636,523 L636,520 L648,515.6 L655,523 L655,547 L649,549 L600,572 L598,570 L598,546 Z"/>
<path class="g" d="M598,546 L607,541 Q628,538 640,528 L655,523 M598,570 L602,566 L602,548"/>
<path class="k" d="M602,566 L612,562 L614,564 L622,560 L624,562 L632,558 L634,555 L642,552 L644,549 L649,549"/>
<path class="g" d="M604,568 L614,566 L622,563 L632,560 L642,554 L650,551"/>
<circle class="g" cx="628" cy="534.5" r="0.7"/>
<path class="f1" d="M614,571.5 L621.6,568.6 L621.6,571.4 L614,574.4 Z"/>
<path class="f1" d="M644,557.4 L652,554.4 L652,557.2 L644,560.2 Z"/>
<polyline class="t" points="634,584 619,574.5"/>
<polyline class="t" points="640,584 648,561"/>
<polyline class="t" points="626.6,502.5 627.6,513"/>
<ellipse class="le" cx="528.4" cy="561.6" rx="9.15" ry="6"/><text class="lt" x="528.4" y="564.1">408A</text>
<ellipse class="le" cx="572.4" cy="624.4" rx="9.15" ry="6"/><text class="lt" x="572.4" y="626.9">302C</text>
<ellipse class="le" cx="606" cy="601" rx="9.15" ry="6"/><text class="lt" x="606" y="603.5">408B</text>
<ellipse class="le" cx="626" cy="497.4" rx="9.15" ry="6"/><text class="lt" x="626" y="499.9">120B</text>
<ellipse class="le" cx="638" cy="588.4" rx="9.15" ry="6"/><text class="lt" x="638" y="590.9">120G</text>
<text class="cap" x="544" y="575.3">Freezer</text>
<text class="cap" x="544" y="584.9">Compartment</text>
<text class="cap" x="620" y="630.2">Fresh Food</text>
<text class="cap" x="620" y="640.4">Compartment</text>
</g>
<g id="p26_610b">
<polyline class="dd" points="385.3,698 481,698 542,792 543.2,839.5 516.8,849.6 516.8,886.8 429.2,926.4 385.3,909.6 385.3,698"/>
<polyline class="t" points="456,692 456,698"/>
<polyline class="t" points="438,716 438.4,723"/>
<polyline class="t" points="458.6,728.4 458,736.4"/>
<polyline class="t" points="482,745 481,750.4"/>
<polyline class="t" points="496.6,754.6 496,761"/>
<polyline class="t" points="439,751 446.4,740"/>
<polyline class="t" points="458,766.4 467,755"/>
<polyline class="t" points="433,793 425,799"/>
<polyline class="t" points="492,793 483,798"/>
<path class="b w" d="M 430,735 L 433.33,728.33 L 440,723.67 L 444.67,721.67 L 446.67,724.33 L 446.67,730.33 L 441.33,733.67 L 435.33,739 L 434,741 L 430,739.67 Z"/>
<path class="k" d="M 433.33,728.33 L 435.33,731 L 435.33,739 M 435.33,731 L 446.67,724.33"/>
<ellipse class="k w" cx="437.07" cy="732.6" rx="1.73" ry="2.67" transform="rotate(-25 437.07 732.6)"/>
<path class="k" d="M 430,739.67 L 429.33,738.33 L 430.4,737.4 M 440,723.67 L 440,722.33 L 441.33,722.73 L 441.33,724.07"/>
<path class="g" d="M 448.67,726.33 Q 450.93,726.33 450.93,728.33 L 450,729.93 M 448,727.67 L 449.6,729.67"/>
<circle class="k w" cx="447.33" cy="738.33" r="2.4"/>
<circle class="f1" cx="447.33" cy="738.33" r="1.33"/>
<circle class="w" cx="447.33" cy="738.33" r="0.53"/>
<path class="b w" d="M 449.33,743 L 459.33,735 L 464,737.67 L 464,745 L 454,752.33 L 449.33,749.67 Z"/>
<path class="k" d="M 449.33,743 L 454,745.67 L 464,737.67 M 454,745.67 L 454,752.33"/>
<circle class="f1" cx="458" cy="745.93" r="0.8"/>
<circle class="g" cx="458" cy="745.93" r="1.73"/>
<path class="b" d="M 462,748.33 L 466.67,751"/>
<circle class="k w" cx="469.07" cy="752.6" r="3.33"/>
<circle class="f1" cx="469.07" cy="752.6" r="2.27"/>
<circle class="w" cx="469.07" cy="752.6" r="1.07"/>
<path class="b w" d="M 468,767 L 471.33,761 L 472.67,755 L 478.67,751 L 484,750.33 L 488,753.67 L 488.67,759 L 486,763 L 477.33,768.33 L 472.67,769 Z"/>
<path class="k" d="M 472.67,755 L 474.67,759.67 L 474.67,768.6 M 474.67,759.67 L 488,753.67 M 471.33,761 L 474.67,761.67"/>
<ellipse class="k w" cx="479.73" cy="762.33" rx="2.67" ry="3.33" transform="rotate(-20 479.73 762.33)"/>
<ellipse class="g" cx="479.73" cy="762.33" rx="1.33" ry="1.73" transform="rotate(-20 479.73 762.33)"/>
<path class="k" d="M 478,751 L 478,749 L 479.73,748.6 L 479.73,750.47 M 482,750.47 L 482.4,748.33 L 484,748.73 L 484,750.33 M 488,754.33 L 490.67,754.73 L 490.67,756.33 L 488.53,756.6 M 488.67,758.33 L 490.67,758.73 L 490.4,760.33 L 488.27,760.33"/>
<path class="k" d="M 468,767 L 467.33,765 L 469.33,763.67"/>
<path class="k w" d="M 492.67,769.67 Q 486.67,767 485.33,775 Q 488,776.33 493.07,772.07 Z"/>
<path class="k w" d="M 493.07,768.33 Q 490.67,761.67 496.67,760.6 Q 501.33,761.67 500,765 Q 497.33,765.67 495.33,769 Z"/>
<path class="k w" d="M 496.27,770.33 Q 502,767.67 503.33,772.33 Q 500,773.67 496.67,772.33 Z"/>
<path class="k w" d="M 492.67,773 Q 489.33,775 489.33,778.73 Q 492,779 494.67,773.67 Z"/>
<path class="k w" d="M 494.93,773.93 Q 494,777.67 495.73,779.67 Q 498,777.67 496.67,773.67 Z"/>
<circle class="k w" cx="494.67" cy="771.27" r="1.6"/>
<path class="k" d="M 473.2,789 Q 474,795 479,796 Q 482.4,797 482,803.6"/>
<circle class="f1" cx="473" cy="788" r="0.8"/>
<path class="k w" d="M 481.2,804 L 482.8,804 L 482.8,809 L 481.2,809 Z"/>
<path class="k w" d="M 391.2,802.2 L 394.4,796.6 L 399.2,791 L 406.4,789.4 L 418.4,785.8 L 420.8,784.2 L 423.6,785.4 L 423.2,787.8 L 425.2,799 L 423.6,810.2 L 421.6,815 L 415.2,821.4 L 410.4,823 L 406.4,823.4 L 401.6,823.96 L 400,821.4 L 394.4,821 L 395.2,815.8 L 392,813.4 Z"/>
<ellipse class="b w" cx="414" cy="806.6" rx="10" ry="13.76" transform="rotate(12 414 806.6)"/>
<ellipse class="k" cx="413.2" cy="806.6" rx="7.6" ry="10.8" transform="rotate(12 413.2 806.6)"/>
<ellipse class="g" cx="412.4" cy="806.84" rx="4.96" ry="7.36" transform="rotate(12 412.4 806.84)"/>
<circle class="f1" cx="411.2" cy="806.76" r="0.8"/>
<path class="k" d="M 399.2,791 L 400.8,795.8 L 406.4,793.8 M 394.4,796.6 L 397.2,799 L 397.2,805.4 M 400.8,795.8 L 400.8,801.4 M 392,813.4 L 397.2,811.4 M 395.2,815.8 L 400.8,816.6 M 400,821.4 L 401.6,818.2 M 406.4,789.4 L 407.2,792.2 M 418.4,785.8 L 419.2,788.6 M 420.8,784.2 L 421.6,787"/>
<path class="k" d="M 397.2,799 L 404,796.6 M 397.2,802.6 L 403.2,799.8 M 397.2,805.4 L 401.6,803.8"/>
<path class="g" d="M 392.8,803 L 392.8,812.6 M 396,816.6 L 399.2,819.8"/>
<circle class="f1" cx="420.4" cy="793.8" r="0.56"/>
<circle class="f1" cx="423.6" cy="799" r="0.48"/>
<circle class="f1" cx="421.6" cy="813.8" r="0.56"/>
<circle class="f1" cx="410.4" cy="820.2" r="0.56"/>
<circle class="f1" cx="401.44" cy="809.4" r="0.56"/>
<circle class="f1" cx="407.2" cy="801.4" r="0.48"/>
<circle class="f1" cx="396.96" cy="804.76" r="0.48"/>
<circle class="f1" cx="403.2" cy="815" r="0.48"/>
<path class="k w" d="M 399.53,865.87 L 421.2,852 L 421.2,849.4 L 476.67,815.6 L 478.4,817.33 L 495.74,807.8 L 496.6,805.2 L 504.4,805.2 L 508.74,808.67 L 508.74,822.53 L 505.79,824.27 L 505.79,846.8 L 500.94,850.27 L 480.14,857.2 L 476.67,858.94 L 439.4,883.2 L 431.6,884.94 L 400.4,894.47 Z"/>
<path class="k" d="M 400.4,869.34 L 431.6,852 M 400.4,869.34 L 400.4,894.47 M 399.53,865.87 L 400.4,869.34 M 403,868.47 L 403,893.6"/>
<path class="g" d="M 402.13,871.07 L 402.13,893.6 M 407.33,865.87 L 407.33,869.34 M 412.53,862.4 L 412.53,865.87"/>
<path class="k" d="M 405.6,864.14 L 409.07,865.87 M 404.73,866.74 L 407.33,865.18 M 420.33,854.6 L 422.93,855.82 M 421.2,856.34 L 423.28,855.12"/>
<path class="k w" d="M 427.27,850.27 L 431.6,847.67 L 437.67,850.27 L 437.67,884.94 L 431.6,883.55 L 431.6,852 L 427.27,850.27 Z"/>
<path class="k" d="M 431.6,852 L 437.67,850.27 M 429.52,851.14 L 429.52,881.47"/>
<path class="k" d="M 437.67,852 L 476.67,829.47 M 476.67,817.33 L 476.67,858.07 M 478.75,818.72 L 478.75,856.34 M 437.67,857.2 L 475.8,835.53"/>
<path stroke="#444" stroke-width="1.5" stroke-dasharray=".7 .7" fill="none" d="M440.5,856 L475.5,836.5"/>
<path class="g" d="M 440.27,853.74 L 475.8,833.8 M 440.27,857.2 L 440.27,853.74"/>
<path class="k" d="M 439.4,883.55 Q 447.2,857.2 466.27,852.87 Q 474.94,853.74 478.75,857.55"/>
<path class="g" d="M 442,882.86 Q 448.94,859.8 466.27,855.12"/>
<path class="k" d="M 480.14,822.53 L 505.27,810.4 M 480.14,822.53 L 480.14,855.47 M 495.74,807.8 L 496.6,810.4 M 504.4,805.2 L 505.27,810.4 L 505.27,846.8"/>
<path class="k w" d="M 497.47,815.25 L 502.67,813 L 502.67,820.8 L 497.47,822.88 Z"/>
<path class="f1" d="M 498.51,815.95 L 501.63,814.56 L 501.63,820.11 L 498.51,821.49 Z"/>
<path class="k" d="M 449.8,836.4 L 453.27,835.53 M 450.67,837.44 L 453.79,836.4"/>
<path class="k" d="M 447.2,876.27 L 450.67,874.54 L 451.02,880.08 L 447.55,881.82 Z M 454.14,872.8 L 463.67,868.47 L 464.54,874.54 L 455,878.87 Z M 466.27,865 L 475.8,860.67 L 476.67,866.74 L 467.14,871.07 Z"/>
<path class="g" d="M 455.87,874.54 L 462.8,871.42 M 468,866.74 L 474.94,863.79"/>
<path class="f2" d="M 442,883.55 L 449.8,880.6 L 450.32,882.34 L 442.52,885.28 Z M 456.74,877.14 L 463.67,874.19 L 464.19,875.92 L 457.26,878.87 Z M 468.87,869.34 L 475.8,866.39 L 476.32,868.12 L 469.39,871.07 Z"/>
<path class="k w" d="M 408.2,900.54 L 416,891.87 L 451.54,879.74 L 456.74,888.4 L 453.27,892.74 L 417.73,912.67 L 410.8,908.34 Z"/>
<path class="k" d="M 416,891.87 L 418.6,897.07 L 417.73,912.67 M 418.6,897.07 L 454.14,883.2"/>
<path class="g" d="M 409.93,902.27 L 416,894.47 M 420.33,899.67 L 453.27,886.67"/>
<path class="k w" d="M 461.07,880.6 L 468,874.54 L 498.34,852.87 L 504.4,861.54 L 500.94,865 L 464.54,884.94 Z"/>
<path class="k" d="M 468,874.54 L 469.74,878.87 L 464.54,884.94 M 469.74,878.87 L 500.94,857.2"/>
<path class="g" d="M 471.47,881.47 L 500.94,860.67"/>
<path class="k" d="M 395.2,888.4 L 400.4,886.67 M 395.2,888.4 L 395.2,891.87 L 397.8,892.74 L 397.8,904 L 400.4,907.47 L 407.33,905.74 M 397.8,892.74 L 400.4,891.52 M 407.33,890.14 L 410.8,889.27 L 410.8,893.6 L 407.33,894.47 Z"/>
<path class="g" d="M 398.67,894.47 L 398.67,904 M 401.27,895.34 L 401.27,905.74 M 403.87,904 L 406.47,903.14"/>
<ellipse class="le" cx="456" cy="686.4" rx="9.15" ry="6"/><text class="lt" x="456" y="688.9">610B</text>
<ellipse class="le" cx="437.6" cy="711.3" rx="9.15" ry="6"/><text class="lt" x="437.6" y="713.8">405H</text>
<ellipse class="le" cx="458.7" cy="723.7" rx="9.15" ry="6"/><text class="lt" x="458.7" y="726.2">404A</text>
<ellipse class="le" cx="482" cy="740.3" rx="9.15" ry="6"/><text class="lt" x="482" y="742.8">405B</text>
<ellipse class="le" cx="496.6" cy="749.6" rx="9.15" ry="6"/><text class="lt" x="496.6" y="752.1">329A</text>
<ellipse class="le" cx="437.6" cy="756" rx="9.15" ry="6"/><text class="lt" x="437.6" y="758.5">405F</text>
<ellipse class="le" cx="457" cy="771.6" rx="9.15" ry="6"/><text class="lt" x="457" y="774.1">405C</text>
<ellipse class="le" cx="441" cy="790" rx="9.15" ry="6"/><text class="lt" x="441" y="792.5">407A</text>
<ellipse class="le" cx="500.6" cy="792.4" rx="9.15" ry="6"/><text class="lt" x="500.6" y="794.9">610C</text>
</g>
<g id="p99_text">
<text class="pg" x="319.5" y="932.8">5/17</text>
<text class="note" x="442" y="480.9">If service is required 249G, Replace with 249M.</text>
<text class="note" x="442" y="487.3">The opposite side of the 249M is NOT service part, because doesn't have HARNESS.</text>
</g>
</svg>
</body></html>
